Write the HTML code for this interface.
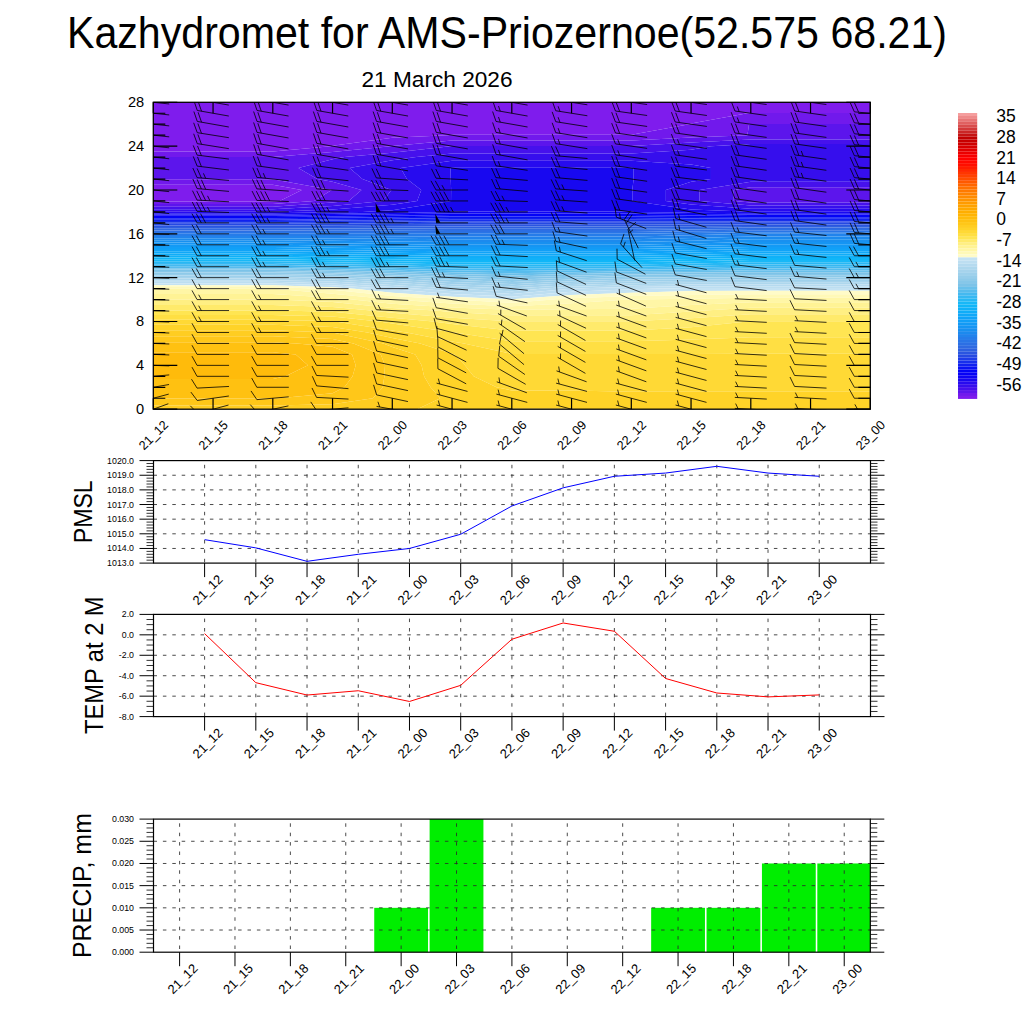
<!DOCTYPE html>
<html><head><meta charset="utf-8"><style>html,body{margin:0;padding:0;background:#fff;width:1024px;height:1024px;overflow:hidden}</style></head>
<body>
<svg width="1024" height="1024" viewBox="0 0 1024 1024" style="position:absolute;left:0;top:0">
<rect width="1024" height="1024" fill="#fff"/>
<g font-family='"Liberation Sans", sans-serif' fill="#000">
<text x="67" y="48" font-size="44" text-anchor="start" textLength="880" lengthAdjust="spacingAndGlyphs">Kazhydromet for AMS-Priozernoe(52.575 68.21)</text>
<text x="361.5" y="86.9" font-size="22.5" text-anchor="start" textLength="151" lengthAdjust="spacingAndGlyphs">21 March 2026</text>
</g>
<defs><clipPath id="pc"><rect x="153.3" y="102.3" width="717" height="306.9"/></clipPath></defs>
<g clip-path="url(#pc)">
<path d="M213.05 201.46L272.8 201.46L279.69 200.95L301.78 189.99L272.8 184.67L213.05 184.67L153.3 184.67L153.3 189.99L153.3 200.95L153.3 201.46ZM213.05 151.46L272.8 151.46L330.76 146.14L332.55 145.67L392.3 137.86L447.12 135.18L452.05 134.85L511.8 134.85L571.55 134.85L631.3 134.85L689.26 124.22L691.05 123.6L747.42 113.26L750.8 112.93L810.55 112.93L870.3 112.93L870.3 102.3L810.55 102.3L750.8 102.3L691.05 102.3L631.3 102.3L571.55 102.3L511.8 102.3L452.05 102.3L392.3 102.3L332.55 102.3L272.8 102.3L213.05 102.3L153.3 102.3L153.3 113.26L153.3 124.22L153.3 135.18L153.3 146.14L153.3 151.46Z" fill="#7f1ced" fill-rule="evenodd"/>
<path d="M213.05 204.06L272.8 204.06L314.17 200.95L331.65 189.99L272.8 179.19L213.05 179.19L153.3 179.19L153.3 184.67L213.05 184.67L272.8 184.67L301.78 189.99L279.69 200.95L272.8 201.46L213.05 201.46L153.3 201.46L153.3 204.06ZM213.05 156.94L272.8 156.94L332.55 152.04L390.51 146.14L392.3 145.9L452.05 140.5L511.8 140.5L571.55 140.5L631.3 140.5L691.05 137.62L747.42 135.18L749.01 124.22L750.8 123.89L810.55 123.89L870.3 123.89L870.3 113.26L870.3 112.93L810.55 112.93L750.8 112.93L747.42 113.26L691.05 123.6L689.26 124.22L631.3 134.85L571.55 134.85L511.8 134.85L452.05 134.85L447.12 135.18L392.3 137.86L332.55 145.67L330.76 146.14L272.8 151.46L213.05 151.46L153.3 151.46L153.3 156.94Z" fill="#7119ec" fill-rule="evenodd"/>
<path d="M213.05 206.65L272.8 206.65L332.55 202.58L348.64 200.95L361.53 189.99L332.55 181.83L317.27 179.03L298.41 168.06L332.55 159.3L344.5 157.1L392.3 152.64L450.26 146.14L452.05 145.98L511.8 145.98L571.55 145.98L631.3 145.98L691.05 142.49L750.8 139.49L810.55 139.49L870.3 139.49L870.3 135.18L870.3 124.22L870.3 123.89L810.55 123.89L750.8 123.89L749.01 124.22L747.42 135.18L691.05 137.62L631.3 140.5L571.55 140.5L511.8 140.5L452.05 140.5L392.3 145.9L390.51 146.14L332.55 152.04L272.8 156.94L213.05 156.94L153.3 156.94L153.3 157.1L153.3 168.06L153.3 179.03L153.3 179.19L213.05 179.19L272.8 179.19L331.65 189.99L314.17 200.95L272.8 204.06L213.05 204.06L153.3 204.06L153.3 206.65ZM750.8 202.5L810.55 202.5L870.3 202.5L870.3 200.95L870.3 189.99L870.3 187.25L810.55 187.25L750.8 187.25L733.73 189.99L733.73 200.95Z" fill="#5c15ec" fill-rule="evenodd"/>
<path d="M213.05 209.24L272.8 209.24L332.55 206.08L383.11 200.95L391.4 189.99L362.43 179.03L349.62 168.06L392.3 160.24L416.2 157.1L452.05 153.38L511.8 153.38L571.55 153.38L631.3 153.38L691.05 149.8L710.97 146.14L750.8 143.92L810.55 143.92L870.3 143.92L870.3 139.49L810.55 139.49L750.8 139.49L691.05 142.49L631.3 145.98L571.55 145.98L511.8 145.98L452.05 145.98L450.26 146.14L392.3 152.64L344.5 157.1L332.55 159.3L298.41 168.06L317.27 179.03L332.55 181.83L361.53 189.99L348.64 200.95L332.55 202.58L272.8 206.65L213.05 206.65L153.3 206.65L153.3 209.24ZM750.8 205.6L810.55 205.6L870.3 205.6L870.3 202.5L810.55 202.5L750.8 202.5L733.73 200.95L733.73 189.99L750.8 187.25L810.55 187.25L870.3 187.25L870.3 181.77L810.55 181.77L750.8 181.77L699.59 189.99L699.59 200.95Z" fill="#4611ec" fill-rule="evenodd"/>
<path d="M213.05 211.83L272.8 211.83L332.55 209.58L392.3 204.84L417.15 200.95L421.28 189.99L406.91 179.03L400.62 168.06L452.05 160.69L511.8 160.69L571.55 160.69L631.3 160.69L691.05 164.41L710.97 168.06L710.97 179.03L691.05 181.77L665.87 189.99L665.87 200.95L691.05 204.6L750.8 208.71L810.55 208.71L870.3 208.71L870.3 205.6L810.55 205.6L750.8 205.6L699.59 200.95L699.59 189.99L750.8 181.77L810.55 181.77L870.3 181.77L870.3 179.03L870.3 168.06L870.3 157.1L870.3 146.14L870.3 143.92L810.55 143.92L750.8 143.92L710.97 146.14L691.05 149.8L631.3 153.38L571.55 153.38L511.8 153.38L452.05 153.38L416.2 157.1L392.3 160.24L349.62 168.06L362.43 179.03L391.4 189.99L383.11 200.95L332.55 206.08L272.8 209.24L213.05 209.24L153.3 209.24L153.3 211.83Z" fill="#360eed" fill-rule="evenodd"/>
<path d="M213.05 213.16L272.8 213.16L332.55 212.36L362.43 211.91L392.3 210.14L451.03 200.95L451.15 189.99L450.74 179.03L450.55 168.06L452.05 167.85L511.8 167.85L571.55 167.85L631.3 167.85L633.6 168.06L633.6 179.03L632.31 189.99L632.31 200.95L691.05 209.47L750.8 211.81L810.55 211.81L870.3 211.81L870.3 208.71L810.55 208.71L750.8 208.71L691.05 204.6L665.87 200.95L665.87 189.99L691.05 181.77L710.97 179.03L710.97 168.06L691.05 164.41L631.3 160.69L571.55 160.69L511.8 160.69L452.05 160.69L400.62 168.06L406.91 179.03L421.28 189.99L417.15 200.95L392.3 204.84L332.55 209.58L272.8 211.83L213.05 211.83L153.3 211.83L153.3 211.91L153.3 213.16Z" fill="#270bef" fill-rule="evenodd"/>
<path d="M213.05 214.46L272.8 214.46L332.55 213.73L392.3 212.88L449.48 211.91L452.05 211.58L511.8 211.58L571.55 211.58L631.3 211.58L634.68 211.91L691.05 212.63L750.8 213.24L810.55 213.24L870.3 213.24L870.3 211.91L870.3 211.81L810.55 211.81L750.8 211.81L691.05 209.47L632.31 200.95L632.31 189.99L633.6 179.03L633.6 168.06L631.3 167.85L571.55 167.85L511.8 167.85L452.05 167.85L450.55 168.06L450.74 179.03L451.15 189.99L451.03 200.95L392.3 210.14L362.43 211.91L332.55 212.36L272.8 213.16L213.05 213.16L153.3 213.16L153.3 214.46Z" fill="#1808f0" fill-rule="evenodd"/>
<path d="M213.05 215.75L272.8 215.75L332.55 215.1L392.3 214.34L452.05 213.43L511.8 213.43L571.55 213.43L631.3 213.43L691.05 214.09L750.8 214.61L810.55 214.61L870.3 214.61L870.3 213.24L810.55 213.24L750.8 213.24L691.05 212.63L634.68 211.91L631.3 211.58L571.55 211.58L511.8 211.58L452.05 211.58L449.48 211.91L392.3 212.88L332.55 213.73L272.8 214.46L213.05 214.46L153.3 214.46L153.3 215.75Z" fill="#0f05f3" fill-rule="evenodd"/>
<path d="M213.05 217.04L272.8 217.04L332.55 216.47L392.3 215.8L452.05 214.99L511.8 214.99L571.55 214.99L631.3 214.99L691.05 215.55L750.8 215.98L810.55 215.98L870.3 215.98L870.3 214.61L810.55 214.61L750.8 214.61L691.05 214.09L631.3 213.43L571.55 213.43L511.8 213.43L452.05 213.43L392.3 214.34L332.55 215.1L272.8 215.75L213.05 215.75L153.3 215.75L153.3 217.04Z" fill="#0602f6" fill-rule="evenodd"/>
<path d="M213.05 218.34L272.8 218.34L332.55 217.84L392.3 217.27L452.05 216.56L511.8 216.56L571.55 216.56L631.3 216.56L691.05 217L750.8 217.35L810.55 217.35L870.3 217.35L870.3 215.98L810.55 215.98L750.8 215.98L691.05 215.55L631.3 214.99L571.55 214.99L511.8 214.99L452.05 214.99L392.3 215.8L332.55 216.47L272.8 217.04L213.05 217.04L153.3 217.04L153.3 218.34Z" fill="#0204f7" fill-rule="evenodd"/>
<path d="M213.05 219.63L272.8 219.63L332.55 219.21L392.3 218.73L452.05 218.12L511.8 218.12L571.55 218.12L631.3 218.12L691.05 218.46L750.8 218.72L810.55 218.72L870.3 218.72L870.3 217.35L810.55 217.35L750.8 217.35L691.05 217L631.3 216.56L571.55 216.56L511.8 216.56L452.05 216.56L392.3 217.27L332.55 217.84L272.8 218.34L213.05 218.34L153.3 218.34L153.3 219.63Z" fill="#0912f3" fill-rule="evenodd"/>
<path d="M213.05 220.93L272.8 220.93L332.55 220.58L392.3 220.19L452.05 219.69L511.8 219.69L571.55 219.69L631.3 219.69L691.05 219.91L750.8 220.09L810.55 220.09L870.3 220.09L870.3 218.72L810.55 218.72L750.8 218.72L691.05 218.46L631.3 218.12L571.55 218.12L511.8 218.12L452.05 218.12L392.3 218.73L332.55 219.21L272.8 219.63L213.05 219.63L153.3 219.63L153.3 220.93Z" fill="#1020f0" fill-rule="evenodd"/>
<path d="M213.05 222.22L272.8 222.22L332.55 221.95L392.3 221.65L452.05 221.26L511.8 221.26L571.55 221.26L631.3 221.26L691.05 221.37L750.8 221.46L810.55 221.46L870.3 221.46L870.3 220.09L810.55 220.09L750.8 220.09L691.05 219.91L631.3 219.69L571.55 219.69L511.8 219.69L452.05 219.69L392.3 220.19L332.55 220.58L272.8 220.93L213.05 220.93L153.3 220.93L153.3 222.22Z" fill="#172fec" fill-rule="evenodd"/>
<path d="M213.05 223.71L272.8 223.71L332.55 223.44L392.3 223.16L442.94 222.87L452.05 222.82L511.8 222.82L571.55 222.82L631.3 222.82L691.05 222.82L750.8 222.83L810.55 222.83L870.3 222.83L870.3 221.46L810.55 221.46L750.8 221.46L691.05 221.37L631.3 221.26L571.55 221.26L511.8 221.26L452.05 221.26L392.3 221.65L332.55 221.95L272.8 222.22L213.05 222.22L153.3 222.22L153.3 222.87L153.3 223.71Z" fill="#1e3ce8" fill-rule="evenodd"/>
<path d="M213.05 225.39L272.8 225.39L332.55 225.16L392.3 224.93L452.05 224.64L511.8 224.64L571.55 224.64L631.3 224.64L691.05 224.51L750.8 224.39L810.55 224.39L870.3 224.39L870.3 222.87L870.3 222.83L810.55 222.83L750.8 222.83L691.05 222.82L631.3 222.82L571.55 222.82L511.8 222.82L452.05 222.82L442.94 222.87L392.3 223.16L332.55 223.44L272.8 223.71L213.05 223.71L153.3 223.71L153.3 225.39Z" fill="#2549e2" fill-rule="evenodd"/>
<path d="M213.05 227.06L272.8 227.06L332.55 226.89L392.3 226.7L452.05 226.47L511.8 226.47L571.55 226.47L631.3 226.47L691.05 226.21L750.8 225.95L810.55 225.95L870.3 225.95L870.3 224.39L810.55 224.39L750.8 224.39L691.05 224.51L631.3 224.64L571.55 224.64L511.8 224.64L452.05 224.64L392.3 224.93L332.55 225.16L272.8 225.39L213.05 225.39L153.3 225.39L153.3 227.06Z" fill="#2a55e0" fill-rule="evenodd"/>
<path d="M213.05 228.74L272.8 228.74L332.55 228.61L392.3 228.47L452.05 228.29L511.8 228.29L571.55 228.29L631.3 228.29L691.05 227.9L750.8 227.52L810.55 227.52L870.3 227.52L870.3 225.95L810.55 225.95L750.8 225.95L691.05 226.21L631.3 226.47L571.55 226.47L511.8 226.47L452.05 226.47L392.3 226.7L332.55 226.89L272.8 227.06L213.05 227.06L153.3 227.06L153.3 228.74Z" fill="#2d60e0" fill-rule="evenodd"/>
<path d="M213.05 230.42L272.8 230.42L332.55 230.33L392.3 230.24L452.05 230.12L511.8 230.12L571.55 230.12L631.3 230.12L691.05 229.59L750.8 229.08L810.55 229.08L870.3 229.08L870.3 227.52L810.55 227.52L750.8 227.52L691.05 227.9L631.3 228.29L571.55 228.29L511.8 228.29L452.05 228.29L392.3 228.47L332.55 228.61L272.8 228.74L213.05 228.74L153.3 228.74L153.3 230.42Z" fill="#2f69e1" fill-rule="evenodd"/>
<path d="M213.05 232.1L272.8 232.1L332.55 232.05L392.3 232.01L452.05 231.95L511.8 231.95L571.55 231.95L631.3 231.95L691.05 231.29L750.8 230.65L810.55 230.65L870.3 230.65L870.3 229.08L810.55 229.08L750.8 229.08L691.05 229.59L631.3 230.12L571.55 230.12L511.8 230.12L452.05 230.12L392.3 230.24L332.55 230.33L272.8 230.42L213.05 230.42L153.3 230.42L153.3 232.1Z" fill="#2c6fe4" fill-rule="evenodd"/>
<path d="M213.05 233.78L272.8 233.78L332.55 233.78L392.3 233.78L452.05 233.77L511.8 233.77L571.55 233.77L631.3 233.77L691.05 232.98L750.8 232.22L810.55 232.22L870.3 232.22L870.3 230.65L810.55 230.65L750.8 230.65L691.05 231.29L631.3 231.95L571.55 231.95L511.8 231.95L452.05 231.95L392.3 232.01L332.55 232.05L272.8 232.1L213.05 232.1L153.3 232.1L153.3 233.78Z" fill="#2975e7" fill-rule="evenodd"/>
<path d="M213.05 235.95L272.8 235.95L332.55 236.12L392.3 236.3L452.05 236.49L511.8 236.49L571.55 236.49L631.3 236.49L691.05 235.2L747.42 233.83L750.8 233.78L810.55 233.78L870.3 233.78L870.3 232.22L810.55 232.22L750.8 232.22L691.05 232.98L631.3 233.77L571.55 233.77L511.8 233.77L452.05 233.77L392.3 233.78L332.55 233.78L272.8 233.78L213.05 233.78L153.3 233.78L153.3 233.83L153.3 235.95Z" fill="#267ce9" fill-rule="evenodd"/>
<path d="M213.05 238.15L272.8 238.15L332.55 238.49L392.3 238.85L452.05 239.23L511.8 239.23L571.55 239.23L631.3 239.23L691.05 237.94L750.8 236.49L810.55 236.49L870.3 236.49L870.3 233.83L870.3 233.78L810.55 233.78L750.8 233.78L747.42 233.83L691.05 235.2L631.3 236.49L571.55 236.49L511.8 236.49L452.05 236.49L392.3 236.3L332.55 236.12L272.8 235.95L213.05 235.95L153.3 235.95L153.3 238.15Z" fill="#2183ec" fill-rule="evenodd"/>
<path d="M213.05 240.34L272.8 240.34L332.55 240.85L392.3 241.39L452.05 241.97L511.8 241.97L571.55 241.97L631.3 241.97L691.05 240.68L750.8 239.23L810.55 239.23L870.3 239.23L870.3 236.49L810.55 236.49L750.8 236.49L691.05 237.94L631.3 239.23L571.55 239.23L511.8 239.23L452.05 239.23L392.3 238.85L332.55 238.49L272.8 238.15L213.05 238.15L153.3 238.15L153.3 240.34Z" fill="#1c8aee" fill-rule="evenodd"/>
<path d="M213.05 242.53L272.8 242.53L332.55 243.21L392.3 243.94L452.05 244.71L511.8 244.71L571.55 244.71L631.3 244.71L691.05 243.42L750.8 241.97L810.55 241.97L870.3 241.97L870.3 239.23L810.55 239.23L750.8 239.23L691.05 240.68L631.3 241.97L571.55 241.97L511.8 241.97L452.05 241.97L392.3 241.39L332.55 240.85L272.8 240.34L213.05 240.34L153.3 240.34L153.3 242.53Z" fill="#1890f0" fill-rule="evenodd"/>
<path d="M332.55 245.52L392.3 246.25L452.05 246.92L511.8 246.92L571.55 246.92L631.3 246.92L691.05 245.89L747.42 244.79L750.8 244.71L810.55 244.71L870.3 244.71L870.3 241.97L810.55 241.97L750.8 241.97L691.05 243.42L631.3 244.71L571.55 244.71L511.8 244.71L452.05 244.71L392.3 243.94L332.55 243.21L272.8 242.53L213.05 242.53L153.3 242.53L153.3 244.72L213.05 244.72L272.8 244.72L277.73 244.79Z" fill="#1595f3" fill-rule="evenodd"/>
<path d="M213.05 246.92L272.8 246.92L332.55 247.71L392.3 248.44L452.05 249.11L511.8 249.11L571.55 249.11L631.3 249.11L691.05 248.08L750.8 246.92L810.55 246.92L870.3 246.92L870.3 244.79L870.3 244.71L810.55 244.71L750.8 244.71L747.42 244.79L691.05 245.89L631.3 246.92L571.55 246.92L511.8 246.92L452.05 246.92L392.3 246.25L332.55 245.52L277.73 244.79L272.8 244.72L213.05 244.72L153.3 244.72L153.3 244.79L153.3 246.92Z" fill="#139af5" fill-rule="evenodd"/>
<path d="M213.05 249.11L272.8 249.11L332.55 249.9L392.3 250.63L452.05 251.3L511.8 251.3L571.55 251.3L631.3 251.3L691.05 250.27L750.8 249.11L810.55 249.11L870.3 249.11L870.3 246.92L810.55 246.92L750.8 246.92L691.05 248.08L631.3 249.11L571.55 249.11L511.8 249.11L452.05 249.11L392.3 248.44L332.55 247.71L272.8 246.92L213.05 246.92L153.3 246.92L153.3 249.11Z" fill="#119ff7" fill-rule="evenodd"/>
<path d="M213.05 251.3L272.8 251.3L332.55 252.1L392.3 252.83L452.05 253.49L511.8 253.49L571.55 253.49L631.3 253.49L691.05 252.46L750.8 251.3L810.55 251.3L870.3 251.3L870.3 249.11L810.55 249.11L750.8 249.11L691.05 250.27L631.3 251.3L571.55 251.3L511.8 251.3L452.05 251.3L392.3 250.63L332.55 249.9L272.8 249.11L213.05 249.11L153.3 249.11L153.3 251.3Z" fill="#10a3f8" fill-rule="evenodd"/>
<path d="M213.05 253.49L272.8 253.49L332.55 254.29L392.3 255.02L452.05 255.68L511.8 255.68L571.55 255.68L631.3 255.68L691.05 254.65L750.8 253.49L810.55 253.49L870.3 253.49L870.3 251.3L810.55 251.3L750.8 251.3L691.05 252.46L631.3 253.49L571.55 253.49L511.8 253.49L452.05 253.49L392.3 252.83L332.55 252.1L272.8 251.3L213.05 251.3L153.3 251.3L153.3 253.49Z" fill="#10a8f8" fill-rule="evenodd"/>
<path d="M332.55 256.39L392.3 257.12L452.05 257.88L511.8 257.88L571.55 257.88L631.3 257.88L691.05 256.85L747.42 255.75L750.8 255.68L810.55 255.68L870.3 255.68L870.3 253.49L810.55 253.49L750.8 253.49L691.05 254.65L631.3 255.68L571.55 255.68L511.8 255.68L452.05 255.68L392.3 255.02L332.55 254.29L272.8 253.49L213.05 253.49L153.3 253.49L153.3 255.68L213.05 255.68L272.8 255.68L277.73 255.75Z" fill="#10adf8" fill-rule="evenodd"/>
<path d="M213.05 257.52L272.8 257.52L332.55 258.33L392.3 259.18L452.05 260.07L511.8 260.07L571.55 260.07L631.3 260.07L691.05 259.04L750.8 257.88L810.55 257.88L870.3 257.88L870.3 255.75L870.3 255.68L810.55 255.68L750.8 255.68L747.42 255.75L691.05 256.85L631.3 257.88L571.55 257.88L511.8 257.88L452.05 257.88L392.3 257.12L332.55 256.39L277.73 255.75L272.8 255.68L213.05 255.68L153.3 255.68L153.3 255.75L153.3 257.52Z" fill="#10b1f8" fill-rule="evenodd"/>
<path d="M213.05 259.35L272.8 259.35L332.55 260.26L392.3 261.23L452.05 262.26L511.8 262.26L571.55 262.26L631.3 262.26L691.05 261.23L750.8 260.07L810.55 260.07L870.3 260.07L870.3 257.88L810.55 257.88L750.8 257.88L691.05 259.04L631.3 260.07L571.55 260.07L511.8 260.07L452.05 260.07L392.3 259.18L332.55 258.33L272.8 257.52L213.05 257.52L153.3 257.52L153.3 259.35Z" fill="#10b6f8" fill-rule="evenodd"/>
<path d="M213.05 261.18L272.8 261.18L332.55 262.2L392.3 263.29L452.05 264.45L511.8 264.45L571.55 264.45L631.3 264.45L691.05 263.42L750.8 262.26L810.55 262.26L870.3 262.26L870.3 260.07L810.55 260.07L750.8 260.07L691.05 261.23L631.3 262.26L571.55 262.26L511.8 262.26L452.05 262.26L392.3 261.23L332.55 260.26L272.8 259.35L213.05 259.35L153.3 259.35L153.3 261.18Z" fill="#18b8f7" fill-rule="evenodd"/>
<path d="M213.05 263L272.8 263L332.55 264.13L392.3 265.34L452.05 266.64L511.8 266.64L571.55 266.64L631.3 266.64L691.05 265.61L750.8 264.45L810.55 264.45L870.3 264.45L870.3 262.26L810.55 262.26L750.8 262.26L691.05 263.42L631.3 264.45L571.55 264.45L511.8 264.45L452.05 264.45L392.3 263.29L332.55 262.2L272.8 261.18L213.05 261.18L153.3 261.18L153.3 263Z" fill="#27b8f4" fill-rule="evenodd"/>
<path d="M392.3 267.25L452.05 268.48L511.8 268.84L571.55 268.48L631.3 268.23L691.05 267.55L747.42 266.71L750.8 266.64L810.55 266.64L870.3 266.64L870.3 264.45L810.55 264.45L750.8 264.45L691.05 265.61L631.3 266.64L571.55 266.64L511.8 266.64L452.05 266.64L392.3 265.34L332.55 264.13L272.8 263L213.05 263L153.3 263L153.3 264.83L213.05 264.83L272.8 264.83L332.55 266.07L362.42 266.71Z" fill="#35b8f2" fill-rule="evenodd"/>
<path d="M332.55 267.66L392.3 268.85L452.05 270.31L511.8 271.03L571.55 270.31L631.3 269.8L691.05 269.23L750.8 268.48L810.55 268.48L870.3 268.48L870.3 266.71L870.3 266.64L810.55 266.64L750.8 266.64L747.42 266.71L691.05 267.55L631.3 268.23L571.55 268.48L511.8 268.84L452.05 268.48L392.3 267.25L362.42 266.71L332.55 266.07L272.8 264.83L213.05 264.83L153.3 264.83L153.3 266.66L213.05 266.66L272.8 266.66L275.37 266.71Z" fill="#44b9f0" fill-rule="evenodd"/>
<path d="M213.05 268.13L272.8 268.13L332.55 269.08L392.3 270.45L452.05 272.14L511.8 273.22L571.55 272.14L631.3 271.36L691.05 270.91L750.8 270.31L810.55 270.31L870.3 270.31L870.3 268.48L810.55 268.48L750.8 268.48L691.05 269.23L631.3 269.8L571.55 270.31L511.8 271.03L452.05 270.31L392.3 268.85L332.55 267.66L275.37 266.71L272.8 266.66L213.05 266.66L153.3 266.66L153.3 266.71L153.3 268.13Z" fill="#57bced" fill-rule="evenodd"/>
<path d="M213.05 269.6L272.8 269.6L332.55 270.51L392.3 272.06L452.05 273.96L511.8 275.41L571.55 273.96L631.3 272.93L691.05 272.59L750.8 272.14L810.55 272.14L870.3 272.14L870.3 270.31L810.55 270.31L750.8 270.31L691.05 270.91L631.3 271.36L571.55 272.14L511.8 273.22L452.05 272.14L392.3 270.45L332.55 269.08L272.8 268.13L213.05 268.13L153.3 268.13L153.3 269.6Z" fill="#69c0eb" fill-rule="evenodd"/>
<path d="M213.05 271.07L272.8 271.07L332.55 271.93L392.3 273.66L452.05 275.79L511.8 277.61L571.55 275.79L631.3 274.49L691.05 274.26L750.8 273.96L810.55 273.96L870.3 273.96L870.3 272.14L810.55 272.14L750.8 272.14L691.05 272.59L631.3 272.93L571.55 273.96L511.8 275.41L452.05 273.96L392.3 272.06L332.55 270.51L272.8 269.6L213.05 269.6L153.3 269.6L153.3 271.07Z" fill="#7cc3e8" fill-rule="evenodd"/>
<path d="M511.8 279.8L569.76 277.67L571.55 277.62L631.3 276.06L691.05 275.94L750.8 275.79L810.55 275.79L870.3 275.79L870.3 273.96L810.55 273.96L750.8 273.96L691.05 274.26L631.3 274.49L571.55 275.79L511.8 277.61L452.05 275.79L392.3 273.66L332.55 271.93L272.8 271.07L213.05 271.07L153.3 271.07L153.3 272.54L213.05 272.54L272.8 272.54L332.55 273.36L392.3 275.27L452.05 277.62L453.84 277.67Z" fill="#86c7e9" fill-rule="evenodd"/>
<path d="M452.05 279.8L511.8 281.99L571.55 279.44L629.51 277.67L631.3 277.62L691.05 277.62L750.8 277.62L810.55 277.62L870.3 277.62L870.3 275.79L810.55 275.79L750.8 275.79L691.05 275.94L631.3 276.06L571.55 277.62L569.76 277.67L511.8 279.8L453.84 277.67L452.05 277.62L392.3 275.27L332.55 273.36L272.8 272.54L213.05 272.54L153.3 272.54L153.3 274L213.05 274L272.8 274L332.55 274.78L392.3 276.87L412.62 277.67Z" fill="#8ecae9" fill-rule="evenodd"/>
<path d="M392.3 278.71L452.05 281.99L511.8 284.18L571.55 281.27L631.3 279.51L691.05 279.34L750.8 279.34L810.55 279.34L870.3 279.34L870.3 277.67L870.3 277.62L810.55 277.62L750.8 277.62L691.05 277.62L631.3 277.62L629.51 277.67L571.55 279.44L511.8 281.99L452.05 279.8L412.62 277.67L392.3 276.87L332.55 274.78L272.8 274L213.05 274L153.3 274L153.3 275.47L213.05 275.47L272.8 275.47L332.55 276.2L372.77 277.67Z" fill="#96cdea" fill-rule="evenodd"/>
<path d="M392.3 280.77L452.05 284.18L511.8 286.37L571.55 283.1L631.3 281.41L691.05 281.06L750.8 281.06L810.55 281.06L870.3 281.06L870.3 279.34L810.55 279.34L750.8 279.34L691.05 279.34L631.3 279.51L571.55 281.27L511.8 284.18L452.05 281.99L392.3 278.71L372.77 277.67L332.55 276.2L272.8 275.47L213.05 275.47L153.3 275.47L153.3 276.94L213.05 276.94L272.8 276.94L332.55 277.63L333.72 277.67Z" fill="#9ed0eb" fill-rule="evenodd"/>
<path d="M213.05 278.51L272.8 278.51L332.55 279.55L392.3 282.84L452.05 286.37L511.8 288.57L571.55 284.92L631.3 283.31L691.05 282.78L750.8 282.78L810.55 282.78L870.3 282.78L870.3 281.06L810.55 281.06L750.8 281.06L691.05 281.06L631.3 281.41L571.55 283.1L511.8 286.37L452.05 284.18L392.3 280.77L333.72 277.67L332.55 277.63L272.8 276.94L213.05 276.94L153.3 276.94L153.3 277.67L153.3 278.51Z" fill="#a6d3ec" fill-rule="evenodd"/>
<path d="M511.8 291.24L540.78 288.63L571.55 286.75L631.3 285.21L691.05 284.5L750.8 284.5L810.55 284.5L870.3 284.5L870.3 282.78L810.55 282.78L750.8 282.78L691.05 282.78L631.3 283.31L571.55 284.92L511.8 288.57L452.05 286.37L392.3 282.84L332.55 279.55L272.8 278.51L213.05 278.51L153.3 278.51L153.3 280.19L213.05 280.19L272.8 280.19L332.55 281.48L392.3 284.91L452.05 288.57L453.84 288.63Z" fill="#add7ed" fill-rule="evenodd"/>
<path d="M452.05 291.29L511.8 293.94L570.65 288.63L571.55 288.58L631.3 287.11L691.05 286.22L750.8 286.22L810.55 286.22L870.3 286.22L870.3 284.5L810.55 284.5L750.8 284.5L691.05 284.5L631.3 285.21L571.55 286.75L540.78 288.63L511.8 291.24L453.84 288.63L452.05 288.57L392.3 284.91L332.55 281.48L272.8 280.19L213.05 280.19L153.3 280.19L153.3 281.87L213.05 281.87L272.8 281.87L332.55 283.41L392.3 286.98L419.31 288.63Z" fill="#b5daef" fill-rule="evenodd"/>
<path d="M392.3 289.31L452.05 294.03L511.8 296.63L571.55 291.79L631.3 289.31L651.22 288.63L691.05 287.94L750.8 287.94L810.55 287.94L870.3 287.94L870.3 286.22L810.55 286.22L750.8 286.22L691.05 286.22L631.3 287.11L571.55 288.58L570.65 288.63L511.8 293.94L452.05 291.29L419.31 288.63L392.3 286.98L332.55 283.41L272.8 281.87L213.05 281.87L153.3 281.87L153.3 283.55L213.05 283.55L272.8 283.55L332.55 285.35L386.01 288.63Z" fill="#bddef1" fill-rule="evenodd"/>
<path d="M392.3 292.7L452.05 296.77L511.8 299.32L571.55 295.04L631.3 292.7L691.05 290.98L750.8 290.75L810.55 290.75L870.3 290.75L870.3 288.63L870.3 287.94L810.55 287.94L750.8 287.94L691.05 287.94L651.22 288.63L631.3 289.31L571.55 291.79L511.8 296.63L452.05 294.03L392.3 289.31L386.01 288.63L332.55 285.35L272.8 283.55L213.05 283.55L153.3 283.55L153.3 285.22L213.05 285.22L272.8 285.22L332.55 287.28L354.56 288.63Z" fill="#c4e2f3" fill-rule="evenodd"/>
<path d="M511.8 302.77L553.17 299.59L571.55 298.29L631.3 296.1L691.05 294.9L750.8 294.29L810.55 294.29L870.3 294.29L870.3 290.75L810.55 290.75L750.8 290.75L691.05 290.98L631.3 292.7L571.55 295.04L511.8 299.32L452.05 296.77L392.3 292.7L354.56 288.63L332.55 287.28L272.8 285.22L213.05 285.22L153.3 285.22L153.3 286.9L213.05 286.9L272.8 286.9L319.07 288.63L332.55 289.81L392.3 296.1L452.05 299.51L453.98 299.59Z" fill="#fffbc8" fill-rule="evenodd"/>
<path d="M452.05 303.49L511.8 306.31L571.55 303.25L628.45 299.59L631.3 299.49L691.05 298.81L750.8 297.83L810.55 297.83L870.3 297.83L870.3 294.29L810.55 294.29L750.8 294.29L691.05 294.9L631.3 296.1L571.55 298.29L553.17 299.59L511.8 302.78L453.98 299.59L452.05 299.51L392.3 296.1L332.55 289.81L319.07 288.63L272.8 286.9L213.05 286.9L153.3 286.9L153.3 288.58L213.05 288.58L272.8 288.58L274.15 288.63L332.55 293.72L392.3 299.49L394.09 299.59Z" fill="#fff9b7" fill-rule="evenodd"/>
<path d="M392.3 303.73L452.05 307.5L511.8 309.85L571.55 309.34L631.3 308.68L691.05 304.91L750.8 302.33L810.55 302.33L870.3 302.33L870.3 299.59L870.3 297.83L810.55 297.82L750.8 297.82L691.05 298.81L631.3 299.49L628.45 299.59L571.55 303.25L511.8 306.31L452.05 303.49L394.09 299.59L392.3 299.49L332.55 293.72L274.15 288.63L272.8 288.58L213.05 288.58L153.3 288.58L153.3 288.63L153.3 293.95L213.05 293.95L272.8 293.95L332.55 297.64L352.87 299.59Z" fill="#fff6a6" fill-rule="evenodd"/>
<path d="M452.05 311.92L511.8 315.35L571.55 315.35L631.3 315.35L691.05 311.55L704.84 310.55L750.8 307.81L810.55 307.81L870.3 307.81L870.3 302.33L810.55 302.33L750.8 302.33L691.05 304.91L631.3 308.68L571.55 309.34L511.8 309.85L452.05 307.5L392.3 303.73L352.87 299.59L332.55 297.64L272.8 293.95L213.05 293.95L153.3 293.95L153.3 299.43L213.05 299.43L272.8 299.43L276.18 299.59L332.55 302.06L392.3 307.99L434.98 310.55Z" fill="#fff395" fill-rule="evenodd"/>
<path d="M392.3 312.64L452.05 317.63L511.8 321.33L571.55 321.33L631.3 321.33L691.05 318.19L750.8 314.14L810.55 314.14L870.3 314.14L870.3 310.55L870.3 307.81L810.55 307.81L750.8 307.81L704.84 310.55L691.05 311.55L631.3 315.35L571.55 315.35L511.8 315.35L452.05 311.92L434.98 310.55L392.3 307.99L332.55 302.06L276.18 299.59L272.8 299.43L213.05 299.43L153.3 299.43L153.3 299.59L153.3 304.91L213.05 304.91L272.8 304.91L332.55 307L370.96 310.55Z" fill="#ffef83" fill-rule="evenodd"/>
<path d="M452.05 324.09L511.8 330.6L571.55 330.6L631.3 330.6L691.05 327.28L747.42 321.51L750.8 321.3L810.55 321.3L870.3 321.3L870.3 314.14L810.55 314.14L750.8 314.14L691.05 318.19L631.3 321.33L571.55 321.33L511.8 321.33L452.05 317.63L392.3 312.64L370.96 310.55L332.55 307L272.8 304.91L213.05 304.91L153.3 304.91L153.3 310.39L213.05 310.39L272.8 310.39L278.58 310.55L332.55 311.87L392.3 317.86L433.3 321.51Z" fill="#ffea6b" fill-rule="evenodd"/>
<path d="M511.8 341.24L571.55 341.24L631.3 341.24L691.05 339.57L750.8 337.17L810.55 337.17L870.3 337.17L870.3 332.48L870.3 321.51L870.3 321.3L810.55 321.3L750.8 321.3L747.42 321.51L691.05 327.28L631.3 330.6L571.55 330.6L511.8 330.6L452.05 324.09L433.3 321.51L392.3 317.86L332.55 311.87L278.58 310.55L272.8 310.39L213.05 310.39L153.3 310.39L153.3 310.55L153.3 315.04L213.05 315.04L272.8 315.04L332.55 316.55L379.12 321.51L392.3 323.57L452.05 332.15L454.9 332.48Z" fill="#ffe552" fill-rule="evenodd"/>
<path d="M511.8 354L571.55 354L631.3 354L691.05 353.95L750.8 353.87L810.55 353.87L870.3 353.87L870.3 343.44L870.3 337.17L810.55 337.17L750.8 337.17L691.05 339.57L631.3 341.24L571.55 341.24L511.8 341.24L454.9 332.47L452.05 332.15L392.3 323.57L379.12 321.51L332.55 316.55L272.8 315.04L213.05 315.04L153.3 315.04L153.3 319.66L213.05 319.66L272.8 319.66L332.55 321.23L335.19 321.51L392.3 330.42L406.53 332.48L452.05 341.55L464 343.44Z" fill="#ffdf43" fill-rule="evenodd"/>
<path d="M511.8 390.41L571.55 390.41L631.3 391.66L691.05 391.66L750.8 391.66L810.55 391.66L870.3 391.66L870.3 387.28L870.3 376.32L870.3 365.36L870.3 354.4L870.3 353.87L810.55 353.87L750.8 353.87L691.05 353.95L631.3 354L571.55 354L511.8 354L464 343.44L452.05 341.55L406.53 332.48L392.3 330.42L335.19 321.51L332.55 321.23L272.8 319.66L213.05 319.66L153.3 319.66L153.3 321.51L153.3 324.8L213.05 324.8L272.8 324.8L332.55 326.88L367.4 332.48L392.3 337.96L420.18 343.44L452.05 353.87L454.42 354.4L464.94 365.36L473.66 376.32L496.48 387.28Z" fill="#ffd935" fill-rule="evenodd"/>
<path d="M452.05 409.2L501.26 409.2L511.8 408.58L571.55 408.58L576.98 409.2L631.3 409.2L691.05 409.2L750.8 409.2L810.55 409.2L870.3 409.2L870.3 398.24L870.3 391.66L810.55 391.66L750.8 391.66L691.05 391.66L631.3 391.66L571.55 390.41L511.8 390.41L496.48 387.28L473.66 376.32L464.94 365.36L454.42 354.4L452.05 353.87L420.18 343.44L392.3 337.96L367.4 332.48L332.55 326.88L272.8 324.8L213.05 324.8L153.3 324.8L153.3 330.28L213.05 330.28L272.8 330.28L329.7 332.48L332.55 332.6L383.34 343.44L392.3 347.09L415.28 354.4L421.59 365.36L424.08 376.32L430.6 387.28L440.25 398.24L417.2 409.2Z" fill="#ffd328" fill-rule="evenodd"/>
<path d="M213.05 409.2L272.8 409.2L332.55 409.2L392.3 409.2L417.2 409.2L440.25 398.24L430.6 387.28L424.08 376.32L421.59 365.36L415.28 354.4L392.3 347.09L383.34 343.44L332.55 332.6L329.7 332.48L272.8 330.28L213.05 330.28L153.3 330.28L153.3 332.48L153.3 336.13L213.05 336.13L272.8 336.13L332.55 338.97L353.46 343.44L380.81 354.4L384.98 365.36L384.35 376.32L382.72 387.28L372.94 398.24L332.55 404.35L272.8 405.62L213.05 405.62L153.3 405.62L153.3 409.2ZM511.8 409.2L571.55 409.2L576.98 409.2L571.55 408.58L511.8 408.58L501.26 409.2Z" fill="#ffcd21" fill-rule="evenodd"/>
<path d="M213.05 405.62L272.8 405.62L332.55 404.35L372.94 398.24L382.72 387.28L384.35 376.32L384.98 365.36L380.81 354.4L353.46 343.44L332.55 338.97L272.8 336.13L213.05 336.13L153.3 336.13L153.3 342.22L213.05 342.22L272.8 342.22L296.7 343.44L332.55 346.79L352.08 354.4L355.69 365.36L352.57 376.32L344.42 387.28L332.55 393.14L278.78 398.24L272.8 398.45L213.05 398.45L153.3 398.45L153.3 405.62Z" fill="#ffc719" fill-rule="evenodd"/>
<path d="M213.05 398.45L272.8 398.45L278.77 398.24L332.55 393.14L344.42 387.28L352.57 376.32L355.69 365.36L352.08 354.4L332.55 346.79L296.7 343.44L272.8 342.22L213.05 342.22L153.3 342.22L153.3 343.44L153.3 352.2L213.05 352.2L272.8 352.2L295.78 354.4L307.95 365.36L285.51 376.32L272.8 379.06L213.05 379.06L153.3 379.06L153.3 387.28L153.3 398.24L153.3 398.45Z" fill="#ffc111" fill-rule="evenodd"/>
<path d="M213.05 379.06L272.8 379.06L285.51 376.32L307.95 365.36L295.78 354.4L272.8 352.2L213.05 352.2L153.3 352.2L153.3 354.4L153.3 365.36L153.3 376.32L153.3 379.06Z" fill="#ffbb0b" fill-rule="evenodd"/>
<path d="M138.26 414.67L168.34 403.73M138.26 414.67L130.34 407.78M137.85 402.38L168.75 394.1M137.85 402.38L130.55 394.83M137.54 390.06L169.06 384.5M137.54 390.06L130.94 381.9M137.36 377.71L169.24 374.92M137.36 377.71L131.49 369.01M137.31 364.8L169.29 365.92M137.31 364.8L132.54 355.44M137.31 353.84L169.29 354.95M137.31 353.84L132.54 344.48M137.31 342.88L169.29 343.99M137.31 342.88L132.54 333.52M137.31 331.92L169.29 333.03M137.31 331.92L132.54 322.56M137.31 320.96L169.29 322.07M137.31 320.96L132.54 311.6M137.31 310L169.29 311.11M137.31 310L132.54 300.64M137.31 299.03L169.29 300.15M137.31 299.03L132.54 289.68M137.31 288.07L169.29 289.19M137.31 288.07L132.54 278.72M137.31 277.11L169.29 278.23M137.31 277.11L132.54 267.76M137.31 266.15L169.29 267.27M137.31 266.15L132.54 256.8M137.31 255.19L169.29 256.31M137.31 255.19L132.54 245.84M137.31 244.23L169.29 245.35M137.31 244.23L132.54 234.88M137.31 233.27L169.29 234.39M137.31 233.27L132.54 223.91M137.39 221.2L169.21 224.54M137.39 221.2L133.28 211.53M141.66 221.64L137.56 211.98M137.39 210.23L169.21 213.58M137.39 210.23L133.28 200.57M141.66 210.68L137.56 201.02M137.39 199.27L169.21 202.62M137.39 199.27L133.28 189.61M141.66 199.72L137.56 190.06M137.39 188.31L169.21 191.66M137.39 188.31L133.28 178.65M141.66 188.76L137.56 179.1M137.39 177.35L169.21 180.7M137.39 177.35L133.28 167.69M141.66 177.8L137.56 168.14M137.39 166.39L169.21 169.74M137.39 166.39L133.28 156.73M141.66 166.84L137.56 157.18M137.39 155.43L169.21 158.78M137.39 155.43L133.28 145.77M141.66 155.88L137.56 146.22M137.39 144.47L169.21 147.82M137.39 144.47L133.28 134.81M141.66 144.92L137.56 135.25M137.39 133.51L169.21 136.85M137.39 133.51L133.28 123.84M141.66 133.96L137.56 124.29M137.39 122.55L169.21 125.89M137.39 122.55L133.28 112.88M141.66 123L137.56 113.33M137.39 111.59L169.21 114.93M137.39 111.59L133.28 101.92M141.66 112.04L137.56 102.37M137.39 100.63L169.21 103.97M137.39 100.63L133.28 90.96M141.66 101.08L137.56 91.41M197.6 413.34L228.5 405.06M197.6 413.34L190.3 405.79M197.21 400.47L228.89 396.01M197.21 400.47L190.89 392.08M197.07 388.12L229.03 386.44M197.07 388.12L191.51 379.21M197.05 376.32L229.05 376.32M197.05 376.32L191.96 367.13M197.05 365.36L229.05 365.36M197.05 365.36L191.96 356.17M197.05 354.4L229.05 354.4M197.05 354.4L191.96 345.21M197.05 343.44L229.05 343.44M197.05 343.44L191.96 334.25M197.05 332.48L229.05 332.48M197.05 332.48L191.96 323.29M197.05 321.51L229.05 321.51M197.05 321.51L191.96 312.33M201.35 321.51L198.68 316.7M197.05 310.55L229.05 310.55M197.05 310.55L191.96 301.37M201.35 310.55L198.68 305.74M197.05 299.59L229.05 299.59M197.05 299.59L191.96 290.41M201.35 299.59L198.68 294.78M197.05 288.63L229.05 288.63M197.05 288.63L191.96 279.45M201.35 288.63L198.68 283.82M197.05 277.67L229.05 277.67M197.05 277.67L191.96 268.49M201.35 277.67L196.26 268.49M197.05 266.71L229.05 266.71M197.05 266.71L191.96 257.53M201.35 266.71L196.26 257.53M197.05 255.75L229.05 255.75M197.05 255.75L191.96 246.57M201.35 255.75L196.26 246.57M197.05 244.79L229.05 244.79M197.05 244.79L191.96 235.61M201.35 244.79L196.26 235.61M197.05 233.83L229.05 233.83M197.05 233.83L191.96 224.65M201.35 233.83L196.26 224.65M197.05 222.87L229.05 222.87M197.05 222.87L191.96 213.68M201.35 222.87L196.26 213.68M205.65 222.87L200.56 213.68M197.06 211.35L229.04 212.47M197.06 211.35L192.29 201.99M201.36 211.5L196.59 202.14M205.65 211.65L200.89 202.29M209.95 211.8L207.45 206.9M197.07 200.11L229.03 201.78M197.07 200.11L192.47 190.67M201.37 200.33L196.76 190.9M205.66 200.56L201.06 191.12M209.95 200.78L207.54 195.84M197.11 188.59L228.99 191.38M197.11 188.59L192.84 179M201.39 188.97L197.12 179.37M205.68 189.34L201.41 179.75M197.11 177.63L228.99 180.42M197.11 177.63L192.84 168.04M201.39 178.01L197.12 168.41M205.68 178.38L203.44 173.36M197.17 166.11L228.93 170.01M197.17 166.11L193.24 156.38M201.44 166.64L197.5 156.9M197.17 155.15L228.93 159.05M197.17 155.15L193.24 145.42M201.44 155.68L197.5 145.94M197.25 143.64L228.85 148.65M197.25 143.64L193.66 133.77M201.49 144.31L197.9 134.45M197.25 132.68L228.85 137.69M197.25 132.68L193.66 122.81M201.49 133.35L197.9 123.49M197.29 121.44L228.81 127M197.29 121.44L193.87 111.52M201.53 122.19L198.11 112.26M197.29 110.48L228.81 116.04M197.29 110.48L193.87 100.55M201.53 111.23L198.11 101.3M197.29 99.52L228.81 105.08M197.29 99.52L193.87 89.59M201.53 100.27L198.11 90.34M257.15 412.53L288.45 405.87M257.15 412.53L250.26 404.6M256.86 399.63L288.74 396.84M256.86 399.63L250.99 390.93M256.8 387.28L288.8 387.28M256.8 387.28L251.71 378.1M256.8 376.32L288.8 376.32M256.8 376.32L251.71 367.13M256.8 365.36L288.8 365.36M256.8 365.36L251.71 356.17M256.8 354.4L288.8 354.4M256.8 354.4L251.71 345.21M256.8 343.44L288.8 343.44M256.8 343.44L251.71 334.25M256.8 332.48L288.8 332.48M256.8 332.48L251.71 323.29M261.1 332.48L258.43 327.66M256.8 321.51L288.8 321.51M256.8 321.51L251.71 312.33M261.1 321.51L258.43 316.7M256.8 310.55L288.8 310.55M256.8 310.55L251.71 301.37M261.1 310.55L258.43 305.74M256.8 299.59L288.8 299.59M256.8 299.59L251.71 290.41M261.1 299.59L258.43 294.78M256.8 288.63L288.8 288.63M256.8 288.63L251.71 279.45M261.1 288.63L256.01 279.45M256.8 277.67L288.8 277.67M256.8 277.67L251.71 268.49M261.1 277.67L256.01 268.49M256.8 266.71L288.8 266.71M256.8 266.71L251.71 257.53M261.1 266.71L256.01 257.53M265.4 266.71L262.73 261.9M256.8 255.75L288.8 255.75M256.8 255.75L251.71 246.57M261.1 255.75L256.01 246.57M265.4 255.75L262.73 250.94M256.8 244.79L288.8 244.79M256.8 244.79L251.71 235.61M261.1 244.79L256.01 235.61M265.4 244.79L262.73 239.98M256.8 233.83L288.8 233.83M256.8 233.83L251.71 224.65M261.1 233.83L256.01 224.65M265.4 233.83L262.73 229.02M256.8 222.87L288.8 222.87M256.8 222.87L251.71 213.68M261.1 222.87L256.01 213.68M265.4 222.87L260.31 213.68M269.7 222.87L267.03 218.06M256.8 211.91L288.8 211.91M256.8 211.91L251.71 202.72M261.1 211.91L256.01 202.72M265.4 211.91L260.31 202.72M269.7 211.91L267.03 207.1M256.81 200.39L288.79 201.5M256.81 200.39L252.04 191.03M261.11 200.54L256.34 191.18M265.4 200.69L260.64 191.33M269.7 200.84L264.93 191.48M256.84 188.87L288.76 191.1M256.84 188.87L252.4 179.35M261.13 189.17L256.69 179.65M265.42 189.47L260.98 179.95M256.89 177.35L288.71 180.7M256.89 177.35L252.78 167.69M261.16 177.8L257.06 168.14M265.44 178.25L263.29 173.19M256.96 165.84L288.64 170.29M256.96 165.84L253.19 156.03M261.21 166.44L257.45 156.63M257.04 154.33L288.56 159.88M257.04 154.33L253.62 144.4M261.28 155.07L257.86 145.14M257.04 143.36L288.56 148.92M257.04 143.36L253.62 133.44M261.28 144.11L257.86 134.18M257.04 132.4L288.56 137.96M257.04 132.4L253.62 122.48M261.28 133.15L257.86 123.22M257.04 121.44L288.56 127M257.04 121.44L253.62 111.52M261.28 122.19L257.86 112.26M257.04 110.48L288.56 116.04M257.04 110.48L253.62 100.55M261.28 111.23L257.86 101.3M257.04 99.52L288.56 105.08M257.04 99.52L253.62 89.59M261.28 100.27L257.86 90.34M316.61 410.59L348.49 407.81M316.61 410.59L310.74 401.89M316.57 397.4L348.53 399.08M316.57 397.4L311.97 387.96M316.61 385.88L348.49 388.67M316.61 385.88L312.34 376.29M316.57 375.48L348.53 377.16M316.57 375.48L311.97 366.04M316.55 365.36L348.55 365.36M316.55 365.36L311.46 356.17M316.55 354.4L348.55 354.4M316.55 354.4L311.46 345.21M316.55 343.44L348.55 343.44M316.55 343.44L311.46 334.25M316.55 332.48L348.55 332.48M316.55 332.48L311.46 323.29M320.85 332.48L318.18 327.66M316.55 321.51L348.55 321.51M316.55 321.51L311.46 312.33M320.85 321.51L318.18 316.7M316.55 310.55L348.55 310.55M316.55 310.55L311.46 301.37M320.85 310.55L318.18 305.74M316.55 299.59L348.55 299.59M316.55 299.59L311.46 290.41M320.85 299.59L315.76 290.41M316.55 288.63L348.55 288.63M316.55 288.63L311.46 279.45M320.85 288.63L315.76 279.45M316.55 277.67L348.55 277.67M316.55 277.67L311.46 268.49M320.85 277.67L315.76 268.49M325.15 277.67L322.48 272.86M316.55 266.71L348.55 266.71M316.55 266.71L311.46 257.53M320.85 266.71L315.76 257.53M325.15 266.71L322.48 261.9M316.55 255.75L348.55 255.75M316.55 255.75L311.46 246.57M320.85 255.75L315.76 246.57M325.15 255.75L320.06 246.57M329.45 255.75L326.78 250.94M316.55 244.79L348.55 244.79M316.55 244.79L311.46 235.61M320.85 244.79L315.76 235.61M325.15 244.79L322.48 239.98M316.55 233.83L348.55 233.83M316.55 233.83L311.46 224.65M320.85 233.83L315.76 224.65M325.15 233.83L320.06 224.65M329.45 233.83L326.78 229.02M316.55 222.87L348.55 222.87M316.55 222.87L311.46 213.68M320.85 222.87L315.76 213.68M325.15 222.87L320.06 213.68M329.45 222.87L324.36 213.68M316.55 211.91L348.55 211.91M316.55 211.91L311.46 202.72M320.85 211.91L315.76 202.72M325.15 211.91L320.06 202.72M329.45 211.91L326.78 207.1M316.56 200.39L348.54 201.5M316.56 200.39L311.79 191.03M320.86 200.54L316.09 191.18M325.15 200.69L320.39 191.33M316.59 188.87L348.51 191.1M316.59 188.87L312.15 179.35M320.88 189.17L316.44 179.65M325.17 189.47L320.73 179.95M316.64 177.35L348.46 180.7M316.64 177.35L312.53 167.69M320.91 177.8L316.81 168.14M316.71 165.84L348.39 170.29M316.71 165.84L312.94 156.03M320.96 166.44L317.2 156.63M316.79 154.33L348.31 159.88M316.79 154.33L313.37 144.4M321.03 155.07L317.61 145.14M316.79 143.36L348.31 148.92M316.79 143.36L313.37 133.44M321.03 144.11L317.61 134.18M316.79 132.4L348.31 137.96M316.79 132.4L313.37 122.48M321.03 133.15L317.61 123.22M316.79 121.44L348.31 127M316.79 121.44L313.37 111.52M321.03 122.19L317.61 112.26M316.79 110.48L348.31 116.04M316.79 110.48L313.37 100.55M321.03 111.23L317.61 101.3M316.79 99.52L348.31 105.08M316.79 99.52L313.37 89.59M321.03 100.27L317.61 90.34M376.54 406.42L408.06 411.98M379.72 406.98L377.93 401.78M376.65 394.91L407.95 401.57M376.65 394.91L373.58 384.87M376.65 383.95L407.95 390.61M376.65 383.95L373.58 373.91M376.65 372.99L407.95 379.64M376.65 372.99L373.58 362.95M376.65 362.03L407.95 368.68M376.65 362.03L373.58 351.99M376.65 351.07L407.95 357.72M376.65 351.07L373.58 341.03M376.65 340.11L407.95 346.76M376.65 340.11L373.58 330.07M376.54 329.7L408.06 335.25M376.54 329.7L373.12 319.77M376.36 320.12L408.24 322.91M376.36 320.12L372.09 310.53M376.32 309.72L408.28 311.39M376.32 309.72L371.72 300.28M380.62 309.94L378.2 305M376.32 298.76L408.28 300.43M376.32 298.76L371.72 289.32M380.62 298.98L378.2 294.04M376.3 288.63L408.3 288.63M376.3 288.63L371.21 279.45M380.6 288.63L375.51 279.45M376.3 277.67L408.3 277.67M376.3 277.67L371.21 268.49M380.6 277.67L375.51 268.49M384.9 277.67L379.81 268.49M376.3 266.71L408.3 266.71M376.3 266.71L371.21 257.53M380.6 266.71L375.51 257.53M384.9 266.71L379.81 257.53M389.2 266.71L386.53 261.9M376.3 255.75L408.3 255.75M376.3 255.75L371.21 246.57M380.6 255.75L375.51 246.57M384.9 255.75L379.81 246.57M389.2 255.75L384.11 246.57M376.3 244.79L408.3 244.79M376.3 244.79L371.21 235.61M380.6 244.79L375.51 235.61M384.9 244.79L379.81 235.61M389.2 244.79L384.11 235.61M376.3 233.83L408.3 233.83M376.3 233.83L371.21 224.65M380.6 233.83L375.51 224.65M384.9 233.83L379.81 224.65M389.2 233.83L384.11 224.65M393.5 233.83L390.83 229.02M376.3 222.87L408.3 222.87M376.3 222.87L371.21 213.68M380.6 222.87L375.51 213.68M384.9 222.87L379.81 213.68M389.2 222.87L384.11 213.68M393.5 222.87L390.83 218.06M376.3 211.91L408.3 211.91M376.3 200.95L408.3 200.95M376.3 200.95L371.21 191.76M380.6 200.95L375.51 191.76M384.9 200.95L379.81 191.76M389.2 200.95L384.11 191.76M376.31 189.43L408.29 190.54M376.31 189.43L371.54 180.07M380.61 189.58L375.84 180.22M384.9 189.73L380.14 180.37M376.34 177.91L408.26 180.14M376.34 177.91L371.9 168.39M380.63 178.21L376.19 168.69M376.54 165.29L408.06 170.84M376.54 165.29L373.12 155.36M380.78 166.03L377.36 156.1M376.54 154.33L408.06 159.88M376.54 154.33L373.12 144.4M380.78 155.07L377.36 145.14M376.54 143.36L408.06 148.92M376.54 143.36L373.12 133.44M380.78 144.11L377.36 134.18M376.54 132.4L408.06 137.96M376.54 132.4L373.12 122.48M380.78 133.15L377.36 123.22M376.54 121.44L408.06 127M376.54 121.44L373.12 111.52M380.78 122.19L377.36 112.26M376.54 110.48L408.06 116.04M376.54 110.48L373.12 100.55M380.78 111.23L377.36 101.3M376.54 99.52L408.06 105.08M376.54 99.52L373.12 89.59M380.78 100.27L377.36 90.34M436.6 405.06L467.5 413.34M439.71 405.89L438.38 400.56M436.6 394.1L467.5 402.38M439.71 394.93L438.38 389.6M436.6 383.14L467.5 391.42M439.71 383.97L438.38 378.64M437.92 368.81L466.18 383.83M437.92 368.81L437.74 358.31M437.92 357.85L466.18 372.87M437.92 357.85L437.74 347.35M437.92 346.88L466.18 361.91M437.92 346.88L437.74 336.39M437.55 336.67L466.55 350.2M437.55 336.67L436.82 326.2M436.6 328.33L467.5 336.62M436.6 328.33L434.06 318.15M436.29 318.74L467.81 324.29M436.29 318.74L432.87 308.81M436.29 307.78L467.81 313.33M436.29 307.78L432.87 297.85M436.21 297.37L467.89 301.82M439.4 297.81L437.43 292.68M436.11 287.24L467.99 290.03M436.11 287.24L431.84 277.65M440.39 287.61L436.12 278.02M436.07 276.83L468.03 278.51M436.07 276.83L431.47 267.4M440.37 277.06L435.76 267.62M444.66 277.28L442.25 272.34M436.06 266.15L468.04 267.27M436.06 266.15L431.29 256.8M440.36 266.3L435.59 256.95M444.65 266.45L439.89 257.1M448.95 266.6L446.45 261.7M436.05 255.75L468.05 255.75M436.05 255.75L430.96 246.57M440.35 255.75L435.26 246.57M444.65 255.75L439.56 246.57M448.95 255.75L443.86 246.57M436.05 244.79L468.05 244.79M436.05 244.79L430.96 235.61M440.35 244.79L435.26 235.61M444.65 244.79L439.56 235.61M448.95 244.79L443.86 235.61M436.05 233.83L468.05 233.83M436.05 222.87L468.05 222.87M436.05 211.91L468.05 211.91M436.05 211.91L430.96 202.72M440.35 211.91L435.26 202.72M444.65 211.91L439.56 202.72M448.95 211.91L443.86 202.72M453.25 211.91L450.58 207.1M436.05 200.95L468.05 200.95M436.05 200.95L430.96 191.76M440.35 200.95L435.26 191.76M444.65 200.95L439.56 191.76M448.95 200.95L443.86 191.76M436.05 189.99L468.05 189.99M436.05 189.99L430.96 180.8M440.35 189.99L435.26 180.8M444.65 189.99L441.98 185.18M436.07 178.19L468.03 179.86M436.07 178.19L431.47 168.75M440.37 178.41L435.76 168.98M436.21 165.84L467.89 170.29M436.21 165.84L432.44 156.03M440.46 166.44L438.49 161.3M436.29 154.33L467.81 159.88M436.29 154.33L432.87 144.4M440.53 155.07L437.11 145.14M436.29 143.36L467.81 148.92M436.29 143.36L432.87 133.44M440.53 144.11L437.11 134.18M436.29 132.4L467.81 137.96M436.29 132.4L432.87 122.48M440.53 133.15L437.11 123.22M436.29 121.44L467.81 127M436.29 121.44L432.87 111.52M440.53 122.19L437.11 112.26M436.29 110.48L467.81 116.04M436.29 110.48L432.87 100.55M440.53 111.23L437.11 101.3M436.29 99.52L467.81 105.08M436.29 99.52L432.87 89.59M440.53 100.27L437.11 90.34M496.35 405.06L527.25 413.34M499.46 405.89L498.13 400.56M496.35 394.1L527.25 402.38M499.46 394.93L498.13 389.6M496.76 381.81L526.84 392.75M499.8 382.91L498.94 377.48M497.94 368.32L525.66 384.32M497.94 368.32L498.13 357.82M498.69 356.18L524.91 374.53M498.69 356.18L499.79 345.74M499.54 344.11L524.06 364.68M499.54 344.11L501.55 333.8M499.54 333.15L524.06 353.72M502.01 335.22L503.06 329.83M498.69 323.3L524.91 341.65M501.34 325.15L501.91 319.68M497.94 313.51L525.66 329.51M500.74 315.13L500.83 309.63M496.76 305.08L526.84 316.03M499.8 306.18L498.94 300.75M496.15 296.27L527.45 302.92M496.15 296.27L493.08 286.23M495.89 286.96L527.71 290.3M495.89 286.96L491.78 277.29M500.16 287.41L498.02 282.35M495.89 276L527.71 279.34M495.89 276L491.78 266.33M500.16 276.45L498.02 271.39M495.82 265.87L527.78 267.55M495.82 265.87L491.22 256.44M500.12 266.1L495.51 256.66M495.82 254.91L527.78 256.59M495.82 254.91L491.22 245.48M500.12 255.14L495.51 245.7M495.81 244.23L527.79 245.35M495.81 244.23L491.04 234.88M500.11 244.38L495.34 235.03M504.4 244.53L501.91 239.63M495.8 233.83L527.8 233.83M495.8 233.83L490.71 224.65M500.1 233.83L495.01 224.65M504.4 233.83L499.31 224.65M495.8 222.87L527.8 222.87M495.8 222.87L490.71 213.68M500.1 222.87L495.01 213.68M504.4 222.87L499.31 213.68M508.7 222.87L506.03 218.06M495.8 211.91L527.8 211.91M495.8 211.91L490.71 202.72M500.1 211.91L495.01 202.72M504.4 211.91L499.31 202.72M508.7 211.91L506.03 207.1M495.81 200.39L527.79 201.5M495.81 200.39L491.04 191.03M500.11 200.54L495.34 191.18M504.4 200.69L501.91 195.79M495.86 188.59L527.74 191.38M495.86 188.59L491.59 179M500.14 188.97L495.87 179.37M495.86 177.63L527.74 180.42M495.86 177.63L491.59 168.04M500.14 178.01L495.87 168.41M495.96 165.84L527.64 170.29M495.96 165.84L492.19 156.03M500.21 166.44L498.24 161.3M496.04 154.33L527.56 159.88M496.04 154.33L492.62 144.4M500.28 155.07L498.49 149.87M496.04 143.36L527.56 148.92M496.04 143.36L492.62 133.44M500.28 144.11L498.49 138.91M496.04 132.4L527.56 137.96M496.04 132.4L492.62 122.48M500.28 133.15L498.49 127.95M496.04 121.44L527.56 127M496.04 121.44L492.62 111.52M500.28 122.19L498.49 116.99M496.04 110.48L527.56 116.04M496.04 110.48L492.62 100.55M500.28 111.23L498.49 106.03M496.04 99.52L527.56 105.08M496.04 99.52L492.62 89.59M500.28 100.27L498.49 95.07M556.1 405.06L587 413.34M559.21 405.89L557.88 400.56M556.1 394.1L587 402.38M559.21 394.93L557.88 389.6M556.1 383.14L587 391.42M559.21 383.97L557.88 378.64M556.51 370.85L586.59 381.79M559.55 371.95L558.69 366.52M557.69 357.36L585.41 373.36M560.49 358.97L560.58 353.47M557.69 346.4L585.41 362.4M560.49 348.01L560.58 342.51M557.69 335.44L585.41 351.44M560.49 337.05L560.58 331.55M557.69 324.48L585.41 340.48M560.49 326.09L560.58 320.59M557.05 314.75L586.05 328.28M559.97 316.12L559.59 310.63M556.51 305.08L586.59 316.03M559.55 306.18L558.69 300.75M557.05 292.83L586.05 306.35M557.05 292.83L556.32 282.36M557.05 281.87L586.05 295.39M557.05 281.87L556.32 271.4M557.05 270.91L586.05 284.43M557.05 270.91L556.32 260.44M556.51 261.24L586.59 272.18M559.55 262.34L558.69 256.91M556.33 250.81L586.77 260.69M556.33 250.81L554.33 240.5M560.42 252.13L559.37 246.74M555.9 241.46L587.2 248.12M555.9 241.46L552.83 231.42M560.11 242.36L558.5 237.1M555.71 231.6L587.39 236.06M555.71 231.6L551.94 221.8M559.96 232.2L557.99 227.07M555.59 221.75L587.51 223.98M555.59 221.75L551.15 212.24M559.88 222.05L555.44 212.54M555.59 210.79L587.51 213.02M555.59 210.79L551.15 201.27M559.88 211.09L555.44 201.57M564.17 211.39L561.84 206.41M555.59 199.83L587.51 202.06M555.59 199.83L551.15 190.31M559.88 200.13L555.44 190.61M564.17 200.43L561.84 195.45M555.59 188.87L587.51 191.1M555.59 188.87L551.15 179.35M559.88 189.17L555.44 179.65M564.17 189.47L561.84 184.48M555.61 177.63L587.49 180.42M555.61 177.63L551.34 168.04M559.89 178.01L555.62 168.41M555.61 166.67L587.49 169.46M555.61 166.67L551.34 157.08M559.89 167.04L555.62 157.45M555.61 155.71L587.49 158.5M555.61 155.71L551.34 146.12M559.89 156.08L555.62 146.49M555.75 143.64L587.35 148.65M555.75 143.64L552.16 133.77M559.99 144.31L558.11 139.14M555.75 132.68L587.35 137.69M555.75 132.68L552.16 122.81M559.99 133.35L558.11 128.18M555.75 121.72L587.35 126.72M555.75 121.72L552.16 111.85M559.99 122.39L558.11 117.22M555.75 110.76L587.35 115.76M555.75 110.76L552.16 100.89M559.99 111.43L558.11 106.26M555.75 99.8L587.35 104.8M555.75 99.8L552.16 89.93M559.99 100.47L558.11 95.3M615.85 405.06L646.75 413.34M618.96 405.89L617.63 400.56M615.85 394.1L646.75 402.38M618.96 394.93L617.63 389.6M615.85 383.14L646.75 391.42M618.96 383.97L617.63 378.64M616.26 370.85L646.34 381.79M619.3 371.95L618.44 366.52M616.26 359.88L646.34 370.83M619.3 360.99L618.44 355.56M616.26 348.92L646.34 359.87M619.3 350.03L618.44 344.59M616.26 337.96L646.34 348.91M619.3 339.07L618.44 333.63M616.26 327L646.34 337.95M619.3 328.11L618.44 322.67M616.26 316.04L646.34 326.99M619.3 317.14L618.44 311.71M616.26 305.08L646.34 316.03M619.3 306.18L618.44 300.75M616.68 293.09L645.92 306.1M619.63 294.4L619.15 288.92M616.36 282.9L646.24 294.37M616.36 282.9L614.9 272.5M616.36 271.94L646.24 283.41M616.36 271.94L614.9 261.54M617.17 259.2L645.43 274.22M617.17 259.2L616.99 248.7M620.59 243.86L642.01 267.64M620.59 243.86L624.01 233.93M623.47 247.06L625.26 241.85M627.97 229.14L634.63 260.44M627.97 229.14L635.9 222.25M628.87 233.34L633.02 229.74M624.29 219.45L638.31 248.21M624.29 219.45L630.31 210.85M626.17 223.31L632.19 214.71M616.36 217.13L646.24 228.6M616.36 217.13L614.9 206.74M620.38 218.67L619.61 213.23M615.46 209.68L647.14 214.13M615.46 209.68L611.69 199.88M619.71 210.28L615.95 200.48M615.46 198.72L647.14 203.17M615.46 198.72L611.69 188.92M619.71 199.32L615.95 189.52M615.46 187.76L647.14 192.21M615.46 187.76L611.69 177.96M619.71 188.36L615.95 178.55M615.46 176.8L647.14 181.25M615.46 176.8L611.69 167M619.71 177.4L615.95 167.59M615.46 165.84L647.14 170.29M615.46 165.84L611.69 156.03M619.71 166.44L615.95 156.63M615.46 154.88L647.14 159.33M615.46 154.88L611.69 145.07M619.71 155.48L617.74 150.34M615.46 143.92L647.14 148.37M615.46 143.92L611.69 134.11M619.71 144.51L617.74 139.38M615.46 132.96L647.14 137.41M615.46 132.96L611.69 123.15M619.71 133.55L615.95 123.75M615.46 121.99L647.14 126.45M615.46 121.99L611.69 112.19M619.71 122.59L615.95 112.79M615.46 111.03L647.14 115.49M615.46 111.03L611.69 101.23M619.71 111.63L615.95 101.83M615.46 100.07L647.14 104.53M615.46 100.07L611.69 90.27M619.71 100.67L615.95 90.87M675.6 405.06L706.5 413.34M678.71 405.89L677.38 400.56M675.6 394.1L706.5 402.38M678.71 394.93L677.38 389.6M675.6 383.14L706.5 391.42M678.71 383.97L677.38 378.64M675.6 372.18L706.5 380.46M678.71 373.01L677.38 367.67M675.6 361.22L706.5 369.5M678.71 362.05L677.38 356.71M675.6 350.26L706.5 358.54M678.71 351.09L677.38 345.75M675.6 339.29L706.5 347.58M678.71 340.13L677.38 334.79M675.6 328.33L706.5 336.62M678.71 329.17L677.38 323.83M675.6 317.37L706.5 325.66M678.71 318.21L677.38 312.87M675.6 306.41L706.5 314.69M678.71 307.25L677.38 301.91M675.6 295.45L706.5 303.73M678.71 296.29L677.38 290.95M675.6 284.49L706.5 292.77M678.71 285.33L677.38 279.99M675.29 274.89L706.81 280.45M675.29 274.89L671.87 264.97M675.29 263.93L706.81 269.49M675.29 263.93L671.87 254M675.29 252.97L706.81 258.53M675.29 252.97L671.87 243.04M675.53 240.92L706.57 248.66M675.53 240.92L672.81 230.78M679.7 241.96L678.27 236.65M675.75 229.15L706.35 238.51M675.75 229.15L673.57 218.88M679.86 230.41L678.72 225.03M675.67 218.46L706.43 227.28M675.67 218.46L673.31 208.23M679.8 219.64L678.57 214.28M675.34 208.85L706.76 214.96M675.34 208.85L672.1 198.87M679.56 209.67L676.32 199.69M675.17 199L706.93 202.9M675.17 199L671.24 189.26M679.44 199.52L675.5 189.79M675.17 188.04L706.93 191.94M675.17 188.04L671.24 178.3M679.44 188.56L675.5 178.82M675.17 177.08L706.93 180.97M675.17 177.08L671.24 167.34M679.44 177.6L675.5 167.86M675.17 166.11L706.93 170.01M675.17 166.11L671.24 156.38M679.44 166.64L675.5 156.9M675.21 154.88L706.89 159.33M675.21 154.88L671.44 145.07M679.46 155.48L677.49 150.34M675.21 143.92L706.89 148.37M675.21 143.92L671.44 134.11M679.46 144.51L677.49 139.38M675.21 132.96L706.89 137.41M675.21 132.96L671.44 123.15M679.46 133.55L675.7 123.75M675.21 121.99L706.89 126.45M675.21 121.99L671.44 112.19M679.46 122.59L675.7 112.79M675.21 111.03L706.89 115.49M675.21 111.03L671.44 101.23M679.46 111.63L675.7 101.83M675.21 100.07L706.89 104.53M675.21 100.07L671.44 90.27M679.46 100.67L675.7 90.87M734.82 408.36L766.78 410.04M738.04 408.53L735.63 403.59M734.82 397.4L766.78 399.08M738.04 397.57L735.63 392.63M734.82 386.44L766.78 388.12M738.04 386.61L735.63 381.67M734.82 375.48L766.78 377.16M738.04 375.65L735.63 370.71M734.82 364.52L766.78 366.19M738.04 364.69L735.63 359.75M734.82 353.56L766.78 355.23M738.04 353.73L735.63 348.78M734.82 342.6L766.78 344.27M738.04 342.77L735.63 337.82M734.82 331.64L766.78 333.31M738.04 331.81L735.63 326.86M734.82 320.68L766.78 322.35M738.04 320.85L735.63 315.9M734.82 309.72L766.78 311.39M738.04 309.88L735.63 304.94M734.82 298.76L766.78 300.43M738.04 298.92L735.63 293.98M734.92 286.68L766.68 290.58M734.92 286.68L730.99 276.95M734.92 275.72L766.68 279.62M734.92 275.72L730.99 265.99M734.92 264.76L766.68 268.66M734.92 264.76L730.99 255.03M739.19 265.28L737.13 260.19M734.92 253.8L766.68 257.7M734.92 253.8L730.99 244.06M739.19 254.32L737.13 249.22M734.92 242.84L766.68 246.74M734.92 242.84L730.99 233.1M739.19 243.36L737.13 238.26M734.92 231.88L766.68 235.78M734.92 231.88L730.99 222.14M739.19 232.4L737.13 227.3M734.96 220.64L766.64 225.09M734.96 220.64L731.19 210.84M739.21 221.24L735.45 211.44M734.96 209.68L766.64 214.13M734.96 209.68L731.19 199.88M739.21 210.28L735.45 200.48M734.96 198.72L766.64 203.17M734.96 198.72L731.19 188.92M739.21 199.32L735.45 189.52M734.96 187.76L766.64 192.21M734.96 187.76L731.19 177.96M739.21 188.36L735.45 178.55M734.96 176.8L766.64 181.25M734.96 176.8L731.19 167M739.21 177.4L735.45 167.59M734.96 165.84L766.64 170.29M734.96 165.84L731.19 156.03M739.21 166.44L735.45 156.63M734.96 154.88L766.64 159.33M734.96 154.88L731.19 145.07M739.21 155.48L735.45 145.67M734.96 143.92L766.64 148.37M734.96 143.92L731.19 134.11M739.21 144.51L735.45 134.71M734.96 132.96L766.64 137.41M734.96 132.96L731.19 123.15M739.21 133.55L735.45 123.75M734.96 121.99L766.64 126.45M734.96 121.99L731.19 112.19M739.21 122.59L737.24 117.46M734.96 111.03L766.64 115.49M734.96 111.03L731.19 101.23M739.21 111.63L737.24 106.5M734.96 100.07L766.64 104.53M734.96 100.07L731.19 90.27M739.21 100.67L737.24 95.54M794.57 408.36L826.53 410.04M797.79 408.53L795.38 403.59M794.57 397.4L826.53 399.08M797.79 397.57L795.38 392.63M794.57 386.44L826.53 388.12M794.57 386.44L789.97 377M794.57 375.48L826.53 377.16M794.57 375.48L789.97 366.04M794.57 364.52L826.53 366.19M794.57 364.52L789.97 355.08M794.57 353.56L826.53 355.23M794.57 353.56L789.97 344.12M794.57 342.6L826.53 344.27M794.57 342.6L789.97 333.16M794.57 331.64L826.53 333.31M797.79 331.81L795.38 326.86M794.57 320.68L826.53 322.35M797.79 320.85L795.38 315.9M794.57 309.72L826.53 311.39M794.57 309.72L789.97 300.28M794.57 298.76L826.53 300.43M794.57 298.76L789.97 289.32M794.57 287.79L826.53 289.47M794.57 287.79L789.97 278.36M794.61 276.28L826.49 279.07M794.61 276.28L790.34 266.68M798.89 276.65L796.66 271.63M794.61 265.32L826.49 268.11M794.61 265.32L790.34 255.72M794.64 254.08L826.46 257.42M794.64 254.08L790.53 244.41M798.91 254.53L796.77 249.46M794.64 243.12L826.46 246.46M794.64 243.12L790.53 233.45M798.91 243.57L796.77 238.5M794.64 232.16L826.46 235.5M794.64 232.16L790.53 222.49M798.91 232.61L796.77 227.54M794.71 220.64L826.39 225.09M794.71 220.64L790.94 210.84M798.96 221.24L795.2 211.44M794.71 209.68L826.39 214.13M794.71 209.68L790.94 199.88M798.96 210.28L795.2 200.48M794.71 198.72L826.39 203.17M794.71 198.72L790.94 188.92M798.96 199.32L795.2 189.52M794.71 187.76L826.39 192.21M794.71 187.76L790.94 177.96M798.96 188.36L795.2 178.55M794.71 176.8L826.39 181.25M794.71 176.8L790.94 167M798.96 177.4L795.2 167.59M803.22 178L801.25 172.86M794.71 165.84L826.39 170.29M794.71 165.84L790.94 156.03M798.96 166.44L795.2 156.63M803.22 167.03L801.25 161.9M794.71 154.88L826.39 159.33M794.71 154.88L790.94 145.07M798.96 155.48L795.2 145.67M803.22 156.07L801.25 150.94M794.71 143.92L826.39 148.37M794.71 143.92L790.94 134.11M798.96 144.51L795.2 134.71M794.71 132.96L826.39 137.41M794.71 132.96L790.94 123.15M798.96 133.55L795.2 123.75M794.71 121.99L826.39 126.45M794.71 121.99L790.94 112.19M798.96 122.59L795.2 112.79M794.71 111.03L826.39 115.49M794.71 111.03L790.94 101.23M798.96 111.63L795.2 101.83M794.71 100.07L826.39 104.53M794.71 100.07L790.94 90.27M798.96 100.67L795.2 90.87M854.3 409.2L886.3 409.2M857.52 409.2L854.86 404.39M854.3 398.24L886.3 398.24M854.3 398.24L849.21 389.06M854.3 387.28L886.3 387.28M854.3 387.28L849.21 378.1M854.3 376.32L886.3 376.32M854.3 376.32L849.21 367.13M854.3 365.36L886.3 365.36M854.3 365.36L849.21 356.17M854.3 354.4L886.3 354.4M854.3 354.4L849.21 345.21M854.3 343.44L886.3 343.44M854.3 343.44L849.21 334.25M854.3 332.48L886.3 332.48M854.3 332.48L849.21 323.29M854.3 321.51L886.3 321.51M854.3 321.51L849.21 312.33M854.3 310.55L886.3 310.55M854.3 310.55L849.21 301.37M854.3 299.59L886.3 299.59M854.3 299.59L849.21 290.41M854.3 288.63L886.3 288.63M854.3 288.63L849.21 279.45M858.6 288.63L855.93 283.82M854.3 277.67L886.3 277.67M854.3 277.67L849.21 268.49M858.6 277.67L855.93 272.86M854.3 266.71L886.3 266.71M854.3 266.71L849.21 257.53M858.6 266.71L855.93 261.9M854.3 255.75L886.3 255.75M854.3 255.75L849.21 246.57M858.6 255.75L853.51 246.57M854.36 243.39L886.24 246.18M854.36 243.39L850.09 233.8M858.64 243.77L854.37 234.18M854.36 232.43L886.24 235.22M854.36 232.43L850.09 222.84M858.64 232.81L854.37 223.22M854.36 221.47L886.24 224.26M854.36 221.47L850.09 211.88M858.64 221.85L854.37 212.26M854.36 210.51L886.24 213.3M854.36 210.51L850.09 200.92M858.64 210.89L854.37 201.3M854.36 199.55L886.24 202.34M854.36 199.55L850.09 189.96M858.64 199.93L854.37 190.33M854.36 188.59L886.24 191.38M854.36 188.59L850.09 179M858.64 188.97L854.37 179.37M854.36 177.63L886.24 180.42M854.36 177.63L850.09 168.04M858.64 178.01L854.37 168.41M854.36 166.67L886.24 169.46M854.36 166.67L850.09 157.08M858.64 167.04L854.37 157.45M854.36 155.71L886.24 158.5M854.36 155.71L850.09 146.12M858.64 156.08L854.37 146.49M854.36 144.75L886.24 147.54M854.36 144.75L850.09 135.16M858.64 145.12L854.37 135.53M854.36 133.79L886.24 136.58M854.36 133.79L850.09 124.2M858.64 134.16L854.37 124.57M854.36 122.83L886.24 125.62M854.36 122.83L850.09 113.23M858.64 123.2L854.37 113.61M854.36 111.87L886.24 114.66M854.36 111.87L850.09 102.27M858.64 112.24L854.37 102.65M854.36 100.91L886.24 103.69M854.36 100.91L850.09 91.31M858.64 101.28L854.37 91.69" fill="none" stroke="#000" stroke-width="0.8" stroke-linecap="butt"/><path d="M376.3 211.91L375.51 202.72L380.6 211.91ZM436.05 233.83L435.26 224.65L440.35 233.83ZM436.05 222.87L435.26 213.68L440.35 222.87Z" fill="#000"/>
</g>
<path d="M153.3 409.2V398.2M153.3 102.3V113.3M213.05 409.2V398.2M213.05 102.3V113.3M272.8 409.2V398.2M272.8 102.3V113.3M332.55 409.2V398.2M332.55 102.3V113.3M392.3 409.2V398.2M392.3 102.3V113.3M452.05 409.2V398.2M452.05 102.3V113.3M511.8 409.2V398.2M511.8 102.3V113.3M571.55 409.2V398.2M571.55 102.3V113.3M631.3 409.2V398.2M631.3 102.3V113.3M691.05 409.2V398.2M691.05 102.3V113.3M750.8 409.2V398.2M750.8 102.3V113.3M810.55 409.2V398.2M810.55 102.3V113.3M870.3 409.2V398.2M870.3 102.3V113.3M153.3 409.2H177.3M870.3 409.2H846.3M153.3 398.24H165.3M870.3 398.24H858.3M153.3 387.28H165.3M870.3 387.28H858.3M153.3 376.32H165.3M870.3 376.32H858.3M153.3 365.36H177.3M870.3 365.36H846.3M153.3 354.4H165.3M870.3 354.4H858.3M153.3 343.44H165.3M870.3 343.44H858.3M153.3 332.48H165.3M870.3 332.48H858.3M153.3 321.51H177.3M870.3 321.51H846.3M153.3 310.55H165.3M870.3 310.55H858.3M153.3 299.59H165.3M870.3 299.59H858.3M153.3 288.63H165.3M870.3 288.63H858.3M153.3 277.67H177.3M870.3 277.67H846.3M153.3 266.71H165.3M870.3 266.71H858.3M153.3 255.75H165.3M870.3 255.75H858.3M153.3 244.79H165.3M870.3 244.79H858.3M153.3 233.83H177.3M870.3 233.83H846.3M153.3 222.87H165.3M870.3 222.87H858.3M153.3 211.91H165.3M870.3 211.91H858.3M153.3 200.95H165.3M870.3 200.95H858.3M153.3 189.99H177.3M870.3 189.99H846.3M153.3 179.03H165.3M870.3 179.03H858.3M153.3 168.06H165.3M870.3 168.06H858.3M153.3 157.1H165.3M870.3 157.1H858.3M153.3 146.14H177.3M870.3 146.14H846.3M153.3 135.18H165.3M870.3 135.18H858.3M153.3 124.22H165.3M870.3 124.22H858.3M153.3 113.26H165.3M870.3 113.26H858.3M153.3 102.3H177.3M870.3 102.3H846.3" stroke="#000" stroke-width="1.2" fill="none"/>
<rect x="153.3" y="102.3" width="717" height="306.9" fill="none" stroke="#000" stroke-width="1.3"/>
<g font-family='"Liberation Sans", sans-serif' fill="#000">
<text x="144.2" y="414.1" font-size="14.6" text-anchor="end">0</text>
<text x="144.2" y="370.26" font-size="14.6" text-anchor="end">4</text>
<text x="144.2" y="326.41" font-size="14.6" text-anchor="end">8</text>
<text x="144.2" y="282.57" font-size="14.6" text-anchor="end">12</text>
<text x="144.2" y="238.73" font-size="14.6" text-anchor="end">16</text>
<text x="144.2" y="194.89" font-size="14.6" text-anchor="end">20</text>
<text x="144.2" y="151.04" font-size="14.6" text-anchor="end">24</text>
<text x="144.2" y="107.2" font-size="14.6" text-anchor="end">28</text>
<text x="0" y="0" transform="translate(169,425.7) rotate(-45)" font-size="12.7" text-anchor="end">21_12</text>
<text x="0" y="0" transform="translate(228.75,425.7) rotate(-45)" font-size="12.7" text-anchor="end">21_15</text>
<text x="0" y="0" transform="translate(288.5,425.7) rotate(-45)" font-size="12.7" text-anchor="end">21_18</text>
<text x="0" y="0" transform="translate(348.25,425.7) rotate(-45)" font-size="12.7" text-anchor="end">21_21</text>
<text x="0" y="0" transform="translate(408,425.7) rotate(-45)" font-size="12.7" text-anchor="end">22_00</text>
<text x="0" y="0" transform="translate(467.75,425.7) rotate(-45)" font-size="12.7" text-anchor="end">22_03</text>
<text x="0" y="0" transform="translate(527.5,425.7) rotate(-45)" font-size="12.7" text-anchor="end">22_06</text>
<text x="0" y="0" transform="translate(587.25,425.7) rotate(-45)" font-size="12.7" text-anchor="end">22_09</text>
<text x="0" y="0" transform="translate(647,425.7) rotate(-45)" font-size="12.7" text-anchor="end">22_12</text>
<text x="0" y="0" transform="translate(706.75,425.7) rotate(-45)" font-size="12.7" text-anchor="end">22_15</text>
<text x="0" y="0" transform="translate(766.5,425.7) rotate(-45)" font-size="12.7" text-anchor="end">22_18</text>
<text x="0" y="0" transform="translate(826.25,425.7) rotate(-45)" font-size="12.7" text-anchor="end">22_21</text>
<text x="0" y="0" transform="translate(886,425.7) rotate(-45)" font-size="12.7" text-anchor="end">23_00</text>
</g>
<rect x="958" y="113" width="19.2" height="2.97" fill="#f59e9e"/>
<rect x="958" y="115.95" width="19.2" height="2.97" fill="#ee8a8a"/>
<rect x="958" y="118.89" width="19.2" height="2.97" fill="#e77676"/>
<rect x="958" y="121.84" width="19.2" height="2.97" fill="#e06161"/>
<rect x="958" y="124.79" width="19.2" height="2.97" fill="#d94c4c"/>
<rect x="958" y="127.74" width="19.2" height="2.97" fill="#d23939"/>
<rect x="958" y="130.68" width="19.2" height="2.97" fill="#ca2626"/>
<rect x="958" y="133.63" width="19.2" height="2.97" fill="#c51313"/>
<rect x="958" y="136.58" width="19.2" height="2.97" fill="#c00000"/>
<rect x="958" y="139.53" width="19.2" height="2.97" fill="#c70000"/>
<rect x="958" y="142.47" width="19.2" height="2.97" fill="#ce0000"/>
<rect x="958" y="145.42" width="19.2" height="2.97" fill="#d70000"/>
<rect x="958" y="148.37" width="19.2" height="2.97" fill="#e10000"/>
<rect x="958" y="151.32" width="19.2" height="2.97" fill="#eb0000"/>
<rect x="958" y="154.26" width="19.2" height="2.97" fill="#f70000"/>
<rect x="958" y="157.21" width="19.2" height="2.97" fill="#ff0200"/>
<rect x="958" y="160.16" width="19.2" height="2.97" fill="#ff0900"/>
<rect x="958" y="163.11" width="19.2" height="2.97" fill="#ff0f00"/>
<rect x="958" y="166.05" width="19.2" height="2.97" fill="#ff1c00"/>
<rect x="958" y="169" width="19.2" height="2.97" fill="#ff2900"/>
<rect x="958" y="171.95" width="19.2" height="2.97" fill="#ff3600"/>
<rect x="958" y="174.9" width="19.2" height="2.97" fill="#ff4200"/>
<rect x="958" y="177.84" width="19.2" height="2.97" fill="#ff4e00"/>
<rect x="958" y="180.79" width="19.2" height="2.97" fill="#ff5900"/>
<rect x="958" y="183.74" width="19.2" height="2.97" fill="#ff6500"/>
<rect x="958" y="186.69" width="19.2" height="2.97" fill="#ff7100"/>
<rect x="958" y="189.63" width="19.2" height="2.97" fill="#ff7a00"/>
<rect x="958" y="192.58" width="19.2" height="2.97" fill="#ff8300"/>
<rect x="958" y="195.53" width="19.2" height="2.97" fill="#ff8b00"/>
<rect x="958" y="198.48" width="19.2" height="2.97" fill="#ff9300"/>
<rect x="958" y="201.42" width="19.2" height="2.97" fill="#ff9b00"/>
<rect x="958" y="204.37" width="19.2" height="2.97" fill="#ffa200"/>
<rect x="958" y="207.32" width="19.2" height="2.97" fill="#ffa800"/>
<rect x="958" y="210.26" width="19.2" height="2.97" fill="#ffae00"/>
<rect x="958" y="213.21" width="19.2" height="2.97" fill="#ffb404"/>
<rect x="958" y="216.16" width="19.2" height="2.97" fill="#ffbb0b"/>
<rect x="958" y="219.11" width="19.2" height="2.97" fill="#ffc111"/>
<rect x="958" y="222.05" width="19.2" height="2.97" fill="#ffc719"/>
<rect x="958" y="225" width="19.2" height="2.97" fill="#ffcd21"/>
<rect x="958" y="227.95" width="19.2" height="2.97" fill="#ffd328"/>
<rect x="958" y="230.9" width="19.2" height="2.97" fill="#ffd935"/>
<rect x="958" y="233.84" width="19.2" height="2.97" fill="#ffdf43"/>
<rect x="958" y="236.79" width="19.2" height="2.97" fill="#ffe552"/>
<rect x="958" y="239.74" width="19.2" height="2.97" fill="#ffea6b"/>
<rect x="958" y="242.69" width="19.2" height="2.97" fill="#ffef83"/>
<rect x="958" y="245.63" width="19.2" height="2.97" fill="#fff395"/>
<rect x="958" y="248.58" width="19.2" height="2.97" fill="#fff6a6"/>
<rect x="958" y="251.53" width="19.2" height="2.97" fill="#fff9b7"/>
<rect x="958" y="254.48" width="19.2" height="2.97" fill="#fffbc8"/>
<rect x="958" y="257.42" width="19.2" height="2.97" fill="#c4e2f3"/>
<rect x="958" y="260.37" width="19.2" height="2.97" fill="#bddef1"/>
<rect x="958" y="263.32" width="19.2" height="2.97" fill="#b5daef"/>
<rect x="958" y="266.27" width="19.2" height="2.97" fill="#add7ed"/>
<rect x="958" y="269.21" width="19.2" height="2.97" fill="#a6d3ec"/>
<rect x="958" y="272.16" width="19.2" height="2.97" fill="#9ed0eb"/>
<rect x="958" y="275.11" width="19.2" height="2.97" fill="#96cdea"/>
<rect x="958" y="278.06" width="19.2" height="2.97" fill="#8ecae9"/>
<rect x="958" y="281" width="19.2" height="2.97" fill="#86c7e9"/>
<rect x="958" y="283.95" width="19.2" height="2.97" fill="#7cc3e8"/>
<rect x="958" y="286.9" width="19.2" height="2.97" fill="#69c0eb"/>
<rect x="958" y="289.85" width="19.2" height="2.97" fill="#57bced"/>
<rect x="958" y="292.79" width="19.2" height="2.97" fill="#44b9f0"/>
<rect x="958" y="295.74" width="19.2" height="2.97" fill="#35b8f2"/>
<rect x="958" y="298.69" width="19.2" height="2.97" fill="#27b8f4"/>
<rect x="958" y="301.64" width="19.2" height="2.97" fill="#18b8f7"/>
<rect x="958" y="304.58" width="19.2" height="2.97" fill="#10b6f8"/>
<rect x="958" y="307.53" width="19.2" height="2.97" fill="#10b1f8"/>
<rect x="958" y="310.48" width="19.2" height="2.97" fill="#10adf8"/>
<rect x="958" y="313.42" width="19.2" height="2.97" fill="#10a8f8"/>
<rect x="958" y="316.37" width="19.2" height="2.97" fill="#10a3f8"/>
<rect x="958" y="319.32" width="19.2" height="2.97" fill="#119ff7"/>
<rect x="958" y="322.27" width="19.2" height="2.97" fill="#139af5"/>
<rect x="958" y="325.21" width="19.2" height="2.97" fill="#1595f3"/>
<rect x="958" y="328.16" width="19.2" height="2.97" fill="#1890f0"/>
<rect x="958" y="331.11" width="19.2" height="2.97" fill="#1c8aee"/>
<rect x="958" y="334.06" width="19.2" height="2.97" fill="#2183ec"/>
<rect x="958" y="337" width="19.2" height="2.97" fill="#267ce9"/>
<rect x="958" y="339.95" width="19.2" height="2.97" fill="#2975e7"/>
<rect x="958" y="342.9" width="19.2" height="2.97" fill="#2c6fe4"/>
<rect x="958" y="345.85" width="19.2" height="2.97" fill="#2f69e1"/>
<rect x="958" y="348.79" width="19.2" height="2.97" fill="#2d60e0"/>
<rect x="958" y="351.74" width="19.2" height="2.97" fill="#2a55e0"/>
<rect x="958" y="354.69" width="19.2" height="2.97" fill="#2549e2"/>
<rect x="958" y="357.64" width="19.2" height="2.97" fill="#1e3ce8"/>
<rect x="958" y="360.58" width="19.2" height="2.97" fill="#172fec"/>
<rect x="958" y="363.53" width="19.2" height="2.97" fill="#1020f0"/>
<rect x="958" y="366.48" width="19.2" height="2.97" fill="#0912f3"/>
<rect x="958" y="369.43" width="19.2" height="2.97" fill="#0204f7"/>
<rect x="958" y="372.37" width="19.2" height="2.97" fill="#0602f6"/>
<rect x="958" y="375.32" width="19.2" height="2.97" fill="#0f05f3"/>
<rect x="958" y="378.27" width="19.2" height="2.97" fill="#1808f0"/>
<rect x="958" y="381.22" width="19.2" height="2.97" fill="#270bef"/>
<rect x="958" y="384.16" width="19.2" height="2.97" fill="#360eed"/>
<rect x="958" y="387.11" width="19.2" height="2.97" fill="#4611ec"/>
<rect x="958" y="390.06" width="19.2" height="2.97" fill="#5c15ec"/>
<rect x="958" y="393.01" width="19.2" height="2.97" fill="#7119ec"/>
<rect x="958" y="395.95" width="19.2" height="2.97" fill="#7f1ced"/>
<g font-family='"Liberation Sans", sans-serif' fill="#000">
<text x="996.2" y="122.2" font-size="17.5" text-anchor="start">35</text>
<text x="996.2" y="142.85" font-size="17.5" text-anchor="start">28</text>
<text x="996.2" y="163.5" font-size="17.5" text-anchor="start">21</text>
<text x="996.2" y="184.15" font-size="17.5" text-anchor="start">14</text>
<text x="996.2" y="204.8" font-size="17.5" text-anchor="start">7</text>
<text x="996.2" y="225.45" font-size="17.5" text-anchor="start">0</text>
<text x="996.2" y="246.1" font-size="17.5" text-anchor="start">-7</text>
<text x="996.2" y="266.75" font-size="17.5" text-anchor="start">-14</text>
<text x="996.2" y="287.4" font-size="17.5" text-anchor="start">-21</text>
<text x="996.2" y="308.05" font-size="17.5" text-anchor="start">-28</text>
<text x="996.2" y="328.7" font-size="17.5" text-anchor="start">-35</text>
<text x="996.2" y="349.35" font-size="17.5" text-anchor="start">-42</text>
<text x="996.2" y="370" font-size="17.5" text-anchor="start">-49</text>
<text x="996.2" y="390.65" font-size="17.5" text-anchor="start">-56</text>
</g>
<line x1="204.6" y1="460.6" x2="204.6" y2="563.1" stroke="#2a2a2a" stroke-width="0.85" stroke-dasharray="3.5 5.9" stroke-dashoffset="5.2" fill="none"/>
<line x1="255.82" y1="460.6" x2="255.82" y2="563.1" stroke="#2a2a2a" stroke-width="0.85" stroke-dasharray="3.5 5.9" stroke-dashoffset="5.2" fill="none"/>
<line x1="307.04" y1="460.6" x2="307.04" y2="563.1" stroke="#2a2a2a" stroke-width="0.85" stroke-dasharray="3.5 5.9" stroke-dashoffset="5.2" fill="none"/>
<line x1="358.26" y1="460.6" x2="358.26" y2="563.1" stroke="#2a2a2a" stroke-width="0.85" stroke-dasharray="3.5 5.9" stroke-dashoffset="5.2" fill="none"/>
<line x1="409.48" y1="460.6" x2="409.48" y2="563.1" stroke="#2a2a2a" stroke-width="0.85" stroke-dasharray="3.5 5.9" stroke-dashoffset="5.2" fill="none"/>
<line x1="460.7" y1="460.6" x2="460.7" y2="563.1" stroke="#2a2a2a" stroke-width="0.85" stroke-dasharray="3.5 5.9" stroke-dashoffset="5.2" fill="none"/>
<line x1="511.92" y1="460.6" x2="511.92" y2="563.1" stroke="#2a2a2a" stroke-width="0.85" stroke-dasharray="3.5 5.9" stroke-dashoffset="5.2" fill="none"/>
<line x1="563.14" y1="460.6" x2="563.14" y2="563.1" stroke="#2a2a2a" stroke-width="0.85" stroke-dasharray="3.5 5.9" stroke-dashoffset="5.2" fill="none"/>
<line x1="614.36" y1="460.6" x2="614.36" y2="563.1" stroke="#2a2a2a" stroke-width="0.85" stroke-dasharray="3.5 5.9" stroke-dashoffset="5.2" fill="none"/>
<line x1="665.58" y1="460.6" x2="665.58" y2="563.1" stroke="#2a2a2a" stroke-width="0.85" stroke-dasharray="3.5 5.9" stroke-dashoffset="5.2" fill="none"/>
<line x1="716.8" y1="460.6" x2="716.8" y2="563.1" stroke="#2a2a2a" stroke-width="0.85" stroke-dasharray="3.5 5.9" stroke-dashoffset="5.2" fill="none"/>
<line x1="768.02" y1="460.6" x2="768.02" y2="563.1" stroke="#2a2a2a" stroke-width="0.85" stroke-dasharray="3.5 5.9" stroke-dashoffset="5.2" fill="none"/>
<line x1="819.24" y1="460.6" x2="819.24" y2="563.1" stroke="#2a2a2a" stroke-width="0.85" stroke-dasharray="3.5 5.9" stroke-dashoffset="5.2" fill="none"/>
<line x1="153.5" y1="475.24" x2="870.5" y2="475.24" stroke="#2a2a2a" stroke-width="0.85" stroke-dasharray="3.5 5.9" fill="none"/>
<line x1="153.5" y1="489.89" x2="870.5" y2="489.89" stroke="#2a2a2a" stroke-width="0.85" stroke-dasharray="3.5 5.9" fill="none"/>
<line x1="153.5" y1="504.53" x2="870.5" y2="504.53" stroke="#2a2a2a" stroke-width="0.85" stroke-dasharray="3.5 5.9" fill="none"/>
<line x1="153.5" y1="519.17" x2="870.5" y2="519.17" stroke="#2a2a2a" stroke-width="0.85" stroke-dasharray="3.5 5.9" fill="none"/>
<line x1="153.5" y1="533.81" x2="870.5" y2="533.81" stroke="#2a2a2a" stroke-width="0.85" stroke-dasharray="3.5 5.9" fill="none"/>
<line x1="153.5" y1="548.46" x2="870.5" y2="548.46" stroke="#2a2a2a" stroke-width="0.85" stroke-dasharray="3.5 5.9" fill="none"/>
<polyline points="204.6,539.67 255.82,547.87 307.04,561.34 358.26,554.31 409.48,548.46 460.7,534.25 511.92,505.99 563.14,487.84 614.36,476.27 665.58,473.05 716.8,466.31 768.02,473.05 819.24,476.27" fill="none" stroke="#0000ff" stroke-width="1.0"/>
<rect x="153.5" y="460.6" width="717" height="102.5" stroke="#000" stroke-width="1.2" fill="none"/>
<line x1="139.5" y1="460.6" x2="153.5" y2="460.6" stroke="#000" stroke-width="1.0" fill="none"/>
<line x1="870.5" y1="460.6" x2="884.5" y2="460.6" stroke="#000" stroke-width="1.0" fill="none"/>
<line x1="139.5" y1="475.24" x2="153.5" y2="475.24" stroke="#000" stroke-width="1.0" fill="none"/>
<line x1="870.5" y1="475.24" x2="884.5" y2="475.24" stroke="#000" stroke-width="1.0" fill="none"/>
<line x1="139.5" y1="489.89" x2="153.5" y2="489.89" stroke="#000" stroke-width="1.0" fill="none"/>
<line x1="870.5" y1="489.89" x2="884.5" y2="489.89" stroke="#000" stroke-width="1.0" fill="none"/>
<line x1="139.5" y1="504.53" x2="153.5" y2="504.53" stroke="#000" stroke-width="1.0" fill="none"/>
<line x1="870.5" y1="504.53" x2="884.5" y2="504.53" stroke="#000" stroke-width="1.0" fill="none"/>
<line x1="139.5" y1="519.17" x2="153.5" y2="519.17" stroke="#000" stroke-width="1.0" fill="none"/>
<line x1="870.5" y1="519.17" x2="884.5" y2="519.17" stroke="#000" stroke-width="1.0" fill="none"/>
<line x1="139.5" y1="533.81" x2="153.5" y2="533.81" stroke="#000" stroke-width="1.0" fill="none"/>
<line x1="870.5" y1="533.81" x2="884.5" y2="533.81" stroke="#000" stroke-width="1.0" fill="none"/>
<line x1="139.5" y1="548.46" x2="153.5" y2="548.46" stroke="#000" stroke-width="1.0" fill="none"/>
<line x1="870.5" y1="548.46" x2="884.5" y2="548.46" stroke="#000" stroke-width="1.0" fill="none"/>
<line x1="139.5" y1="563.1" x2="153.5" y2="563.1" stroke="#000" stroke-width="1.0" fill="none"/>
<line x1="870.5" y1="563.1" x2="884.5" y2="563.1" stroke="#000" stroke-width="1.0" fill="none"/>
<line x1="146.5" y1="463.53" x2="153.5" y2="463.53" stroke="#000" stroke-width="0.8" fill="none"/>
<line x1="870.5" y1="463.53" x2="877.5" y2="463.53" stroke="#000" stroke-width="0.8" fill="none"/>
<line x1="146.5" y1="466.46" x2="153.5" y2="466.46" stroke="#000" stroke-width="0.8" fill="none"/>
<line x1="870.5" y1="466.46" x2="877.5" y2="466.46" stroke="#000" stroke-width="0.8" fill="none"/>
<line x1="146.5" y1="469.39" x2="153.5" y2="469.39" stroke="#000" stroke-width="0.8" fill="none"/>
<line x1="870.5" y1="469.39" x2="877.5" y2="469.39" stroke="#000" stroke-width="0.8" fill="none"/>
<line x1="146.5" y1="472.31" x2="153.5" y2="472.31" stroke="#000" stroke-width="0.8" fill="none"/>
<line x1="870.5" y1="472.31" x2="877.5" y2="472.31" stroke="#000" stroke-width="0.8" fill="none"/>
<line x1="146.5" y1="478.17" x2="153.5" y2="478.17" stroke="#000" stroke-width="0.8" fill="none"/>
<line x1="870.5" y1="478.17" x2="877.5" y2="478.17" stroke="#000" stroke-width="0.8" fill="none"/>
<line x1="146.5" y1="481.1" x2="153.5" y2="481.1" stroke="#000" stroke-width="0.8" fill="none"/>
<line x1="870.5" y1="481.1" x2="877.5" y2="481.1" stroke="#000" stroke-width="0.8" fill="none"/>
<line x1="146.5" y1="484.03" x2="153.5" y2="484.03" stroke="#000" stroke-width="0.8" fill="none"/>
<line x1="870.5" y1="484.03" x2="877.5" y2="484.03" stroke="#000" stroke-width="0.8" fill="none"/>
<line x1="146.5" y1="486.96" x2="153.5" y2="486.96" stroke="#000" stroke-width="0.8" fill="none"/>
<line x1="870.5" y1="486.96" x2="877.5" y2="486.96" stroke="#000" stroke-width="0.8" fill="none"/>
<line x1="146.5" y1="492.81" x2="153.5" y2="492.81" stroke="#000" stroke-width="0.8" fill="none"/>
<line x1="870.5" y1="492.81" x2="877.5" y2="492.81" stroke="#000" stroke-width="0.8" fill="none"/>
<line x1="146.5" y1="495.74" x2="153.5" y2="495.74" stroke="#000" stroke-width="0.8" fill="none"/>
<line x1="870.5" y1="495.74" x2="877.5" y2="495.74" stroke="#000" stroke-width="0.8" fill="none"/>
<line x1="146.5" y1="498.67" x2="153.5" y2="498.67" stroke="#000" stroke-width="0.8" fill="none"/>
<line x1="870.5" y1="498.67" x2="877.5" y2="498.67" stroke="#000" stroke-width="0.8" fill="none"/>
<line x1="146.5" y1="501.6" x2="153.5" y2="501.6" stroke="#000" stroke-width="0.8" fill="none"/>
<line x1="870.5" y1="501.6" x2="877.5" y2="501.6" stroke="#000" stroke-width="0.8" fill="none"/>
<line x1="146.5" y1="507.46" x2="153.5" y2="507.46" stroke="#000" stroke-width="0.8" fill="none"/>
<line x1="870.5" y1="507.46" x2="877.5" y2="507.46" stroke="#000" stroke-width="0.8" fill="none"/>
<line x1="146.5" y1="510.39" x2="153.5" y2="510.39" stroke="#000" stroke-width="0.8" fill="none"/>
<line x1="870.5" y1="510.39" x2="877.5" y2="510.39" stroke="#000" stroke-width="0.8" fill="none"/>
<line x1="146.5" y1="513.31" x2="153.5" y2="513.31" stroke="#000" stroke-width="0.8" fill="none"/>
<line x1="870.5" y1="513.31" x2="877.5" y2="513.31" stroke="#000" stroke-width="0.8" fill="none"/>
<line x1="146.5" y1="516.24" x2="153.5" y2="516.24" stroke="#000" stroke-width="0.8" fill="none"/>
<line x1="870.5" y1="516.24" x2="877.5" y2="516.24" stroke="#000" stroke-width="0.8" fill="none"/>
<line x1="146.5" y1="522.1" x2="153.5" y2="522.1" stroke="#000" stroke-width="0.8" fill="none"/>
<line x1="870.5" y1="522.1" x2="877.5" y2="522.1" stroke="#000" stroke-width="0.8" fill="none"/>
<line x1="146.5" y1="525.03" x2="153.5" y2="525.03" stroke="#000" stroke-width="0.8" fill="none"/>
<line x1="870.5" y1="525.03" x2="877.5" y2="525.03" stroke="#000" stroke-width="0.8" fill="none"/>
<line x1="146.5" y1="527.96" x2="153.5" y2="527.96" stroke="#000" stroke-width="0.8" fill="none"/>
<line x1="870.5" y1="527.96" x2="877.5" y2="527.96" stroke="#000" stroke-width="0.8" fill="none"/>
<line x1="146.5" y1="530.89" x2="153.5" y2="530.89" stroke="#000" stroke-width="0.8" fill="none"/>
<line x1="870.5" y1="530.89" x2="877.5" y2="530.89" stroke="#000" stroke-width="0.8" fill="none"/>
<line x1="146.5" y1="536.74" x2="153.5" y2="536.74" stroke="#000" stroke-width="0.8" fill="none"/>
<line x1="870.5" y1="536.74" x2="877.5" y2="536.74" stroke="#000" stroke-width="0.8" fill="none"/>
<line x1="146.5" y1="539.67" x2="153.5" y2="539.67" stroke="#000" stroke-width="0.8" fill="none"/>
<line x1="870.5" y1="539.67" x2="877.5" y2="539.67" stroke="#000" stroke-width="0.8" fill="none"/>
<line x1="146.5" y1="542.6" x2="153.5" y2="542.6" stroke="#000" stroke-width="0.8" fill="none"/>
<line x1="870.5" y1="542.6" x2="877.5" y2="542.6" stroke="#000" stroke-width="0.8" fill="none"/>
<line x1="146.5" y1="545.53" x2="153.5" y2="545.53" stroke="#000" stroke-width="0.8" fill="none"/>
<line x1="870.5" y1="545.53" x2="877.5" y2="545.53" stroke="#000" stroke-width="0.8" fill="none"/>
<line x1="146.5" y1="551.39" x2="153.5" y2="551.39" stroke="#000" stroke-width="0.8" fill="none"/>
<line x1="870.5" y1="551.39" x2="877.5" y2="551.39" stroke="#000" stroke-width="0.8" fill="none"/>
<line x1="146.5" y1="554.31" x2="153.5" y2="554.31" stroke="#000" stroke-width="0.8" fill="none"/>
<line x1="870.5" y1="554.31" x2="877.5" y2="554.31" stroke="#000" stroke-width="0.8" fill="none"/>
<line x1="146.5" y1="557.24" x2="153.5" y2="557.24" stroke="#000" stroke-width="0.8" fill="none"/>
<line x1="870.5" y1="557.24" x2="877.5" y2="557.24" stroke="#000" stroke-width="0.8" fill="none"/>
<line x1="146.5" y1="560.17" x2="153.5" y2="560.17" stroke="#000" stroke-width="0.8" fill="none"/>
<line x1="870.5" y1="560.17" x2="877.5" y2="560.17" stroke="#000" stroke-width="0.8" fill="none"/>
<line x1="204.6" y1="563.1" x2="204.6" y2="577.1" stroke="#000" stroke-width="1.0" fill="none"/>
<line x1="255.82" y1="563.1" x2="255.82" y2="577.1" stroke="#000" stroke-width="1.0" fill="none"/>
<line x1="307.04" y1="563.1" x2="307.04" y2="577.1" stroke="#000" stroke-width="1.0" fill="none"/>
<line x1="358.26" y1="563.1" x2="358.26" y2="577.1" stroke="#000" stroke-width="1.0" fill="none"/>
<line x1="409.48" y1="563.1" x2="409.48" y2="577.1" stroke="#000" stroke-width="1.0" fill="none"/>
<line x1="460.7" y1="563.1" x2="460.7" y2="577.1" stroke="#000" stroke-width="1.0" fill="none"/>
<line x1="511.92" y1="563.1" x2="511.92" y2="577.1" stroke="#000" stroke-width="1.0" fill="none"/>
<line x1="563.14" y1="563.1" x2="563.14" y2="577.1" stroke="#000" stroke-width="1.0" fill="none"/>
<line x1="614.36" y1="563.1" x2="614.36" y2="577.1" stroke="#000" stroke-width="1.0" fill="none"/>
<line x1="665.58" y1="563.1" x2="665.58" y2="577.1" stroke="#000" stroke-width="1.0" fill="none"/>
<line x1="716.8" y1="563.1" x2="716.8" y2="577.1" stroke="#000" stroke-width="1.0" fill="none"/>
<line x1="768.02" y1="563.1" x2="768.02" y2="577.1" stroke="#000" stroke-width="1.0" fill="none"/>
<line x1="819.24" y1="563.1" x2="819.24" y2="577.1" stroke="#000" stroke-width="1.0" fill="none"/>
<g font-family='"Liberation Sans", sans-serif' fill="#000">
<text x="134" y="463.6" font-size="8.8" text-anchor="end">1020.0</text>
<text x="134" y="478.24" font-size="8.8" text-anchor="end">1019.0</text>
<text x="134" y="492.89" font-size="8.8" text-anchor="end">1018.0</text>
<text x="134" y="507.53" font-size="8.8" text-anchor="end">1017.0</text>
<text x="134" y="522.17" font-size="8.8" text-anchor="end">1016.0</text>
<text x="134" y="536.81" font-size="8.8" text-anchor="end">1015.0</text>
<text x="134" y="551.46" font-size="8.8" text-anchor="end">1014.0</text>
<text x="134" y="566.1" font-size="8.8" text-anchor="end">1013.0</text>
<text x="0" y="0" transform="translate(223.6,580.1) rotate(-45)" font-size="13" text-anchor="end">21_12</text>
<text x="0" y="0" transform="translate(274.82,580.1) rotate(-45)" font-size="13" text-anchor="end">21_15</text>
<text x="0" y="0" transform="translate(326.04,580.1) rotate(-45)" font-size="13" text-anchor="end">21_18</text>
<text x="0" y="0" transform="translate(377.26,580.1) rotate(-45)" font-size="13" text-anchor="end">21_21</text>
<text x="0" y="0" transform="translate(428.48,580.1) rotate(-45)" font-size="13" text-anchor="end">22_00</text>
<text x="0" y="0" transform="translate(479.7,580.1) rotate(-45)" font-size="13" text-anchor="end">22_03</text>
<text x="0" y="0" transform="translate(530.92,580.1) rotate(-45)" font-size="13" text-anchor="end">22_06</text>
<text x="0" y="0" transform="translate(582.14,580.1) rotate(-45)" font-size="13" text-anchor="end">22_09</text>
<text x="0" y="0" transform="translate(633.36,580.1) rotate(-45)" font-size="13" text-anchor="end">22_12</text>
<text x="0" y="0" transform="translate(684.58,580.1) rotate(-45)" font-size="13" text-anchor="end">22_15</text>
<text x="0" y="0" transform="translate(735.8,580.1) rotate(-45)" font-size="13" text-anchor="end">22_18</text>
<text x="0" y="0" transform="translate(787.02,580.1) rotate(-45)" font-size="13" text-anchor="end">22_21</text>
<text x="0" y="0" transform="translate(838.24,580.1) rotate(-45)" font-size="13" text-anchor="end">23_00</text>
<text x="0" y="0" transform="translate(91.5,511.8) rotate(-90)" font-size="25.5" text-anchor="middle" textLength="63" lengthAdjust="spacingAndGlyphs">PMSL</text>
</g>
<line x1="204.6" y1="614.4" x2="204.6" y2="716.6" stroke="#2a2a2a" stroke-width="0.85" stroke-dasharray="3.5 5.9" stroke-dashoffset="5.2" fill="none"/>
<line x1="255.82" y1="614.4" x2="255.82" y2="716.6" stroke="#2a2a2a" stroke-width="0.85" stroke-dasharray="3.5 5.9" stroke-dashoffset="5.2" fill="none"/>
<line x1="307.04" y1="614.4" x2="307.04" y2="716.6" stroke="#2a2a2a" stroke-width="0.85" stroke-dasharray="3.5 5.9" stroke-dashoffset="5.2" fill="none"/>
<line x1="358.26" y1="614.4" x2="358.26" y2="716.6" stroke="#2a2a2a" stroke-width="0.85" stroke-dasharray="3.5 5.9" stroke-dashoffset="5.2" fill="none"/>
<line x1="409.48" y1="614.4" x2="409.48" y2="716.6" stroke="#2a2a2a" stroke-width="0.85" stroke-dasharray="3.5 5.9" stroke-dashoffset="5.2" fill="none"/>
<line x1="460.7" y1="614.4" x2="460.7" y2="716.6" stroke="#2a2a2a" stroke-width="0.85" stroke-dasharray="3.5 5.9" stroke-dashoffset="5.2" fill="none"/>
<line x1="511.92" y1="614.4" x2="511.92" y2="716.6" stroke="#2a2a2a" stroke-width="0.85" stroke-dasharray="3.5 5.9" stroke-dashoffset="5.2" fill="none"/>
<line x1="563.14" y1="614.4" x2="563.14" y2="716.6" stroke="#2a2a2a" stroke-width="0.85" stroke-dasharray="3.5 5.9" stroke-dashoffset="5.2" fill="none"/>
<line x1="614.36" y1="614.4" x2="614.36" y2="716.6" stroke="#2a2a2a" stroke-width="0.85" stroke-dasharray="3.5 5.9" stroke-dashoffset="5.2" fill="none"/>
<line x1="665.58" y1="614.4" x2="665.58" y2="716.6" stroke="#2a2a2a" stroke-width="0.85" stroke-dasharray="3.5 5.9" stroke-dashoffset="5.2" fill="none"/>
<line x1="716.8" y1="614.4" x2="716.8" y2="716.6" stroke="#2a2a2a" stroke-width="0.85" stroke-dasharray="3.5 5.9" stroke-dashoffset="5.2" fill="none"/>
<line x1="768.02" y1="614.4" x2="768.02" y2="716.6" stroke="#2a2a2a" stroke-width="0.85" stroke-dasharray="3.5 5.9" stroke-dashoffset="5.2" fill="none"/>
<line x1="819.24" y1="614.4" x2="819.24" y2="716.6" stroke="#2a2a2a" stroke-width="0.85" stroke-dasharray="3.5 5.9" stroke-dashoffset="5.2" fill="none"/>
<line x1="153.5" y1="634.84" x2="870.5" y2="634.84" stroke="#2a2a2a" stroke-width="0.85" stroke-dasharray="3.5 5.9" fill="none"/>
<line x1="153.5" y1="655.28" x2="870.5" y2="655.28" stroke="#2a2a2a" stroke-width="0.85" stroke-dasharray="3.5 5.9" fill="none"/>
<line x1="153.5" y1="675.72" x2="870.5" y2="675.72" stroke="#2a2a2a" stroke-width="0.85" stroke-dasharray="3.5 5.9" fill="none"/>
<line x1="153.5" y1="696.16" x2="870.5" y2="696.16" stroke="#2a2a2a" stroke-width="0.85" stroke-dasharray="3.5 5.9" fill="none"/>
<polyline points="204.6,633.61 255.82,682.67 307.04,695.04 358.26,690.74 409.48,701.47 460.7,685.33 511.92,639.23 563.14,622.98 614.36,631.26 665.58,678.48 716.8,692.99 768.02,696.88 819.24,694.93" fill="none" stroke="#ff0000" stroke-width="1.0"/>
<rect x="153.5" y="614.4" width="717" height="102.2" stroke="#000" stroke-width="1.2" fill="none"/>
<line x1="139.5" y1="614.4" x2="153.5" y2="614.4" stroke="#000" stroke-width="1.0" fill="none"/>
<line x1="870.5" y1="614.4" x2="884.5" y2="614.4" stroke="#000" stroke-width="1.0" fill="none"/>
<line x1="139.5" y1="634.84" x2="153.5" y2="634.84" stroke="#000" stroke-width="1.0" fill="none"/>
<line x1="870.5" y1="634.84" x2="884.5" y2="634.84" stroke="#000" stroke-width="1.0" fill="none"/>
<line x1="139.5" y1="655.28" x2="153.5" y2="655.28" stroke="#000" stroke-width="1.0" fill="none"/>
<line x1="870.5" y1="655.28" x2="884.5" y2="655.28" stroke="#000" stroke-width="1.0" fill="none"/>
<line x1="139.5" y1="675.72" x2="153.5" y2="675.72" stroke="#000" stroke-width="1.0" fill="none"/>
<line x1="870.5" y1="675.72" x2="884.5" y2="675.72" stroke="#000" stroke-width="1.0" fill="none"/>
<line x1="139.5" y1="696.16" x2="153.5" y2="696.16" stroke="#000" stroke-width="1.0" fill="none"/>
<line x1="870.5" y1="696.16" x2="884.5" y2="696.16" stroke="#000" stroke-width="1.0" fill="none"/>
<line x1="139.5" y1="716.6" x2="153.5" y2="716.6" stroke="#000" stroke-width="1.0" fill="none"/>
<line x1="870.5" y1="716.6" x2="884.5" y2="716.6" stroke="#000" stroke-width="1.0" fill="none"/>
<line x1="146.5" y1="619.51" x2="153.5" y2="619.51" stroke="#000" stroke-width="0.8" fill="none"/>
<line x1="870.5" y1="619.51" x2="877.5" y2="619.51" stroke="#000" stroke-width="0.8" fill="none"/>
<line x1="146.5" y1="624.62" x2="153.5" y2="624.62" stroke="#000" stroke-width="0.8" fill="none"/>
<line x1="870.5" y1="624.62" x2="877.5" y2="624.62" stroke="#000" stroke-width="0.8" fill="none"/>
<line x1="146.5" y1="629.73" x2="153.5" y2="629.73" stroke="#000" stroke-width="0.8" fill="none"/>
<line x1="870.5" y1="629.73" x2="877.5" y2="629.73" stroke="#000" stroke-width="0.8" fill="none"/>
<line x1="146.5" y1="639.95" x2="153.5" y2="639.95" stroke="#000" stroke-width="0.8" fill="none"/>
<line x1="870.5" y1="639.95" x2="877.5" y2="639.95" stroke="#000" stroke-width="0.8" fill="none"/>
<line x1="146.5" y1="645.06" x2="153.5" y2="645.06" stroke="#000" stroke-width="0.8" fill="none"/>
<line x1="870.5" y1="645.06" x2="877.5" y2="645.06" stroke="#000" stroke-width="0.8" fill="none"/>
<line x1="146.5" y1="650.17" x2="153.5" y2="650.17" stroke="#000" stroke-width="0.8" fill="none"/>
<line x1="870.5" y1="650.17" x2="877.5" y2="650.17" stroke="#000" stroke-width="0.8" fill="none"/>
<line x1="146.5" y1="660.39" x2="153.5" y2="660.39" stroke="#000" stroke-width="0.8" fill="none"/>
<line x1="870.5" y1="660.39" x2="877.5" y2="660.39" stroke="#000" stroke-width="0.8" fill="none"/>
<line x1="146.5" y1="665.5" x2="153.5" y2="665.5" stroke="#000" stroke-width="0.8" fill="none"/>
<line x1="870.5" y1="665.5" x2="877.5" y2="665.5" stroke="#000" stroke-width="0.8" fill="none"/>
<line x1="146.5" y1="670.61" x2="153.5" y2="670.61" stroke="#000" stroke-width="0.8" fill="none"/>
<line x1="870.5" y1="670.61" x2="877.5" y2="670.61" stroke="#000" stroke-width="0.8" fill="none"/>
<line x1="146.5" y1="680.83" x2="153.5" y2="680.83" stroke="#000" stroke-width="0.8" fill="none"/>
<line x1="870.5" y1="680.83" x2="877.5" y2="680.83" stroke="#000" stroke-width="0.8" fill="none"/>
<line x1="146.5" y1="685.94" x2="153.5" y2="685.94" stroke="#000" stroke-width="0.8" fill="none"/>
<line x1="870.5" y1="685.94" x2="877.5" y2="685.94" stroke="#000" stroke-width="0.8" fill="none"/>
<line x1="146.5" y1="691.05" x2="153.5" y2="691.05" stroke="#000" stroke-width="0.8" fill="none"/>
<line x1="870.5" y1="691.05" x2="877.5" y2="691.05" stroke="#000" stroke-width="0.8" fill="none"/>
<line x1="146.5" y1="701.27" x2="153.5" y2="701.27" stroke="#000" stroke-width="0.8" fill="none"/>
<line x1="870.5" y1="701.27" x2="877.5" y2="701.27" stroke="#000" stroke-width="0.8" fill="none"/>
<line x1="146.5" y1="706.38" x2="153.5" y2="706.38" stroke="#000" stroke-width="0.8" fill="none"/>
<line x1="870.5" y1="706.38" x2="877.5" y2="706.38" stroke="#000" stroke-width="0.8" fill="none"/>
<line x1="146.5" y1="711.49" x2="153.5" y2="711.49" stroke="#000" stroke-width="0.8" fill="none"/>
<line x1="870.5" y1="711.49" x2="877.5" y2="711.49" stroke="#000" stroke-width="0.8" fill="none"/>
<line x1="204.6" y1="716.6" x2="204.6" y2="730.6" stroke="#000" stroke-width="1.0" fill="none"/>
<line x1="255.82" y1="716.6" x2="255.82" y2="730.6" stroke="#000" stroke-width="1.0" fill="none"/>
<line x1="307.04" y1="716.6" x2="307.04" y2="730.6" stroke="#000" stroke-width="1.0" fill="none"/>
<line x1="358.26" y1="716.6" x2="358.26" y2="730.6" stroke="#000" stroke-width="1.0" fill="none"/>
<line x1="409.48" y1="716.6" x2="409.48" y2="730.6" stroke="#000" stroke-width="1.0" fill="none"/>
<line x1="460.7" y1="716.6" x2="460.7" y2="730.6" stroke="#000" stroke-width="1.0" fill="none"/>
<line x1="511.92" y1="716.6" x2="511.92" y2="730.6" stroke="#000" stroke-width="1.0" fill="none"/>
<line x1="563.14" y1="716.6" x2="563.14" y2="730.6" stroke="#000" stroke-width="1.0" fill="none"/>
<line x1="614.36" y1="716.6" x2="614.36" y2="730.6" stroke="#000" stroke-width="1.0" fill="none"/>
<line x1="665.58" y1="716.6" x2="665.58" y2="730.6" stroke="#000" stroke-width="1.0" fill="none"/>
<line x1="716.8" y1="716.6" x2="716.8" y2="730.6" stroke="#000" stroke-width="1.0" fill="none"/>
<line x1="768.02" y1="716.6" x2="768.02" y2="730.6" stroke="#000" stroke-width="1.0" fill="none"/>
<line x1="819.24" y1="716.6" x2="819.24" y2="730.6" stroke="#000" stroke-width="1.0" fill="none"/>
<g font-family='"Liberation Sans", sans-serif' fill="#000">
<text x="134" y="617.4" font-size="8.8" text-anchor="end">2.0</text>
<text x="134" y="637.84" font-size="8.8" text-anchor="end">0.0</text>
<text x="134" y="658.28" font-size="8.8" text-anchor="end">-2.0</text>
<text x="134" y="678.72" font-size="8.8" text-anchor="end">-4.0</text>
<text x="134" y="699.16" font-size="8.8" text-anchor="end">-6.0</text>
<text x="134" y="719.6" font-size="8.8" text-anchor="end">-8.0</text>
<text x="0" y="0" transform="translate(223.6,733.6) rotate(-45)" font-size="13" text-anchor="end">21_12</text>
<text x="0" y="0" transform="translate(274.82,733.6) rotate(-45)" font-size="13" text-anchor="end">21_15</text>
<text x="0" y="0" transform="translate(326.04,733.6) rotate(-45)" font-size="13" text-anchor="end">21_18</text>
<text x="0" y="0" transform="translate(377.26,733.6) rotate(-45)" font-size="13" text-anchor="end">21_21</text>
<text x="0" y="0" transform="translate(428.48,733.6) rotate(-45)" font-size="13" text-anchor="end">22_00</text>
<text x="0" y="0" transform="translate(479.7,733.6) rotate(-45)" font-size="13" text-anchor="end">22_03</text>
<text x="0" y="0" transform="translate(530.92,733.6) rotate(-45)" font-size="13" text-anchor="end">22_06</text>
<text x="0" y="0" transform="translate(582.14,733.6) rotate(-45)" font-size="13" text-anchor="end">22_09</text>
<text x="0" y="0" transform="translate(633.36,733.6) rotate(-45)" font-size="13" text-anchor="end">22_12</text>
<text x="0" y="0" transform="translate(684.58,733.6) rotate(-45)" font-size="13" text-anchor="end">22_15</text>
<text x="0" y="0" transform="translate(735.8,733.6) rotate(-45)" font-size="13" text-anchor="end">22_18</text>
<text x="0" y="0" transform="translate(787.02,733.6) rotate(-45)" font-size="13" text-anchor="end">22_21</text>
<text x="0" y="0" transform="translate(838.24,733.6) rotate(-45)" font-size="13" text-anchor="end">23_00</text>
<text x="0" y="0" transform="translate(103,665.2) rotate(-90)" font-size="25.5" text-anchor="middle" textLength="137.5" lengthAdjust="spacingAndGlyphs">TEMP at 2 M</text>
</g>
<rect x="374.24" y="907.83" width="53.8" height="44.37" fill="#00ee00"/>
<rect x="429.62" y="819.1" width="53.8" height="133.1" fill="#00ee00"/>
<rect x="651.16" y="907.83" width="53.8" height="44.37" fill="#00ee00"/>
<rect x="706.55" y="907.83" width="53.8" height="44.37" fill="#00ee00"/>
<rect x="761.94" y="863.47" width="53.8" height="88.73" fill="#00ee00"/>
<rect x="817.32" y="863.47" width="52.98" height="88.73" fill="#00ee00"/>
<line x1="179.6" y1="819.1" x2="179.6" y2="952.2" stroke="#2a2a2a" stroke-width="0.85" stroke-dasharray="3.5 5.9" stroke-dashoffset="5.2" fill="none"/>
<line x1="234.98" y1="819.1" x2="234.98" y2="952.2" stroke="#2a2a2a" stroke-width="0.85" stroke-dasharray="3.5 5.9" stroke-dashoffset="5.2" fill="none"/>
<line x1="290.37" y1="819.1" x2="290.37" y2="952.2" stroke="#2a2a2a" stroke-width="0.85" stroke-dasharray="3.5 5.9" stroke-dashoffset="5.2" fill="none"/>
<line x1="345.75" y1="819.1" x2="345.75" y2="952.2" stroke="#2a2a2a" stroke-width="0.85" stroke-dasharray="3.5 5.9" stroke-dashoffset="5.2" fill="none"/>
<line x1="401.14" y1="819.1" x2="401.14" y2="952.2" stroke="#2a2a2a" stroke-width="0.85" stroke-dasharray="3.5 5.9" stroke-dashoffset="5.2" fill="none"/>
<line x1="456.52" y1="819.1" x2="456.52" y2="952.2" stroke="#2a2a2a" stroke-width="0.85" stroke-dasharray="3.5 5.9" stroke-dashoffset="5.2" fill="none"/>
<line x1="511.91" y1="819.1" x2="511.91" y2="952.2" stroke="#2a2a2a" stroke-width="0.85" stroke-dasharray="3.5 5.9" stroke-dashoffset="5.2" fill="none"/>
<line x1="567.29" y1="819.1" x2="567.29" y2="952.2" stroke="#2a2a2a" stroke-width="0.85" stroke-dasharray="3.5 5.9" stroke-dashoffset="5.2" fill="none"/>
<line x1="622.68" y1="819.1" x2="622.68" y2="952.2" stroke="#2a2a2a" stroke-width="0.85" stroke-dasharray="3.5 5.9" stroke-dashoffset="5.2" fill="none"/>
<line x1="678.06" y1="819.1" x2="678.06" y2="952.2" stroke="#2a2a2a" stroke-width="0.85" stroke-dasharray="3.5 5.9" stroke-dashoffset="5.2" fill="none"/>
<line x1="733.45" y1="819.1" x2="733.45" y2="952.2" stroke="#2a2a2a" stroke-width="0.85" stroke-dasharray="3.5 5.9" stroke-dashoffset="5.2" fill="none"/>
<line x1="788.84" y1="819.1" x2="788.84" y2="952.2" stroke="#2a2a2a" stroke-width="0.85" stroke-dasharray="3.5 5.9" stroke-dashoffset="5.2" fill="none"/>
<line x1="844.22" y1="819.1" x2="844.22" y2="952.2" stroke="#2a2a2a" stroke-width="0.85" stroke-dasharray="3.5 5.9" stroke-dashoffset="5.2" fill="none"/>
<line x1="153.5" y1="841.28" x2="870.3" y2="841.28" stroke="#2a2a2a" stroke-width="0.85" stroke-dasharray="3.5 5.9" fill="none"/>
<line x1="153.5" y1="863.47" x2="870.3" y2="863.47" stroke="#2a2a2a" stroke-width="0.85" stroke-dasharray="3.5 5.9" fill="none"/>
<line x1="153.5" y1="885.65" x2="870.3" y2="885.65" stroke="#2a2a2a" stroke-width="0.85" stroke-dasharray="3.5 5.9" fill="none"/>
<line x1="153.5" y1="907.83" x2="870.3" y2="907.83" stroke="#2a2a2a" stroke-width="0.85" stroke-dasharray="3.5 5.9" fill="none"/>
<line x1="153.5" y1="930.02" x2="870.3" y2="930.02" stroke="#2a2a2a" stroke-width="0.85" stroke-dasharray="3.5 5.9" fill="none"/>
<rect x="153.5" y="819.1" width="716.8" height="133.1" stroke="#000" stroke-width="1.2" fill="none"/>
<line x1="139.5" y1="819.1" x2="153.5" y2="819.1" stroke="#000" stroke-width="1.0" fill="none"/>
<line x1="870.3" y1="819.1" x2="884.3" y2="819.1" stroke="#000" stroke-width="1.0" fill="none"/>
<line x1="139.5" y1="841.28" x2="153.5" y2="841.28" stroke="#000" stroke-width="1.0" fill="none"/>
<line x1="870.3" y1="841.28" x2="884.3" y2="841.28" stroke="#000" stroke-width="1.0" fill="none"/>
<line x1="139.5" y1="863.47" x2="153.5" y2="863.47" stroke="#000" stroke-width="1.0" fill="none"/>
<line x1="870.3" y1="863.47" x2="884.3" y2="863.47" stroke="#000" stroke-width="1.0" fill="none"/>
<line x1="139.5" y1="885.65" x2="153.5" y2="885.65" stroke="#000" stroke-width="1.0" fill="none"/>
<line x1="870.3" y1="885.65" x2="884.3" y2="885.65" stroke="#000" stroke-width="1.0" fill="none"/>
<line x1="139.5" y1="907.83" x2="153.5" y2="907.83" stroke="#000" stroke-width="1.0" fill="none"/>
<line x1="870.3" y1="907.83" x2="884.3" y2="907.83" stroke="#000" stroke-width="1.0" fill="none"/>
<line x1="139.5" y1="930.02" x2="153.5" y2="930.02" stroke="#000" stroke-width="1.0" fill="none"/>
<line x1="870.3" y1="930.02" x2="884.3" y2="930.02" stroke="#000" stroke-width="1.0" fill="none"/>
<line x1="139.5" y1="952.2" x2="153.5" y2="952.2" stroke="#000" stroke-width="1.0" fill="none"/>
<line x1="870.3" y1="952.2" x2="884.3" y2="952.2" stroke="#000" stroke-width="1.0" fill="none"/>
<line x1="146.5" y1="823.54" x2="153.5" y2="823.54" stroke="#000" stroke-width="0.8" fill="none"/>
<line x1="870.3" y1="823.54" x2="877.3" y2="823.54" stroke="#000" stroke-width="0.8" fill="none"/>
<line x1="146.5" y1="827.97" x2="153.5" y2="827.97" stroke="#000" stroke-width="0.8" fill="none"/>
<line x1="870.3" y1="827.97" x2="877.3" y2="827.97" stroke="#000" stroke-width="0.8" fill="none"/>
<line x1="146.5" y1="832.41" x2="153.5" y2="832.41" stroke="#000" stroke-width="0.8" fill="none"/>
<line x1="870.3" y1="832.41" x2="877.3" y2="832.41" stroke="#000" stroke-width="0.8" fill="none"/>
<line x1="146.5" y1="836.85" x2="153.5" y2="836.85" stroke="#000" stroke-width="0.8" fill="none"/>
<line x1="870.3" y1="836.85" x2="877.3" y2="836.85" stroke="#000" stroke-width="0.8" fill="none"/>
<line x1="146.5" y1="845.72" x2="153.5" y2="845.72" stroke="#000" stroke-width="0.8" fill="none"/>
<line x1="870.3" y1="845.72" x2="877.3" y2="845.72" stroke="#000" stroke-width="0.8" fill="none"/>
<line x1="146.5" y1="850.16" x2="153.5" y2="850.16" stroke="#000" stroke-width="0.8" fill="none"/>
<line x1="870.3" y1="850.16" x2="877.3" y2="850.16" stroke="#000" stroke-width="0.8" fill="none"/>
<line x1="146.5" y1="854.59" x2="153.5" y2="854.59" stroke="#000" stroke-width="0.8" fill="none"/>
<line x1="870.3" y1="854.59" x2="877.3" y2="854.59" stroke="#000" stroke-width="0.8" fill="none"/>
<line x1="146.5" y1="859.03" x2="153.5" y2="859.03" stroke="#000" stroke-width="0.8" fill="none"/>
<line x1="870.3" y1="859.03" x2="877.3" y2="859.03" stroke="#000" stroke-width="0.8" fill="none"/>
<line x1="146.5" y1="867.9" x2="153.5" y2="867.9" stroke="#000" stroke-width="0.8" fill="none"/>
<line x1="870.3" y1="867.9" x2="877.3" y2="867.9" stroke="#000" stroke-width="0.8" fill="none"/>
<line x1="146.5" y1="872.34" x2="153.5" y2="872.34" stroke="#000" stroke-width="0.8" fill="none"/>
<line x1="870.3" y1="872.34" x2="877.3" y2="872.34" stroke="#000" stroke-width="0.8" fill="none"/>
<line x1="146.5" y1="876.78" x2="153.5" y2="876.78" stroke="#000" stroke-width="0.8" fill="none"/>
<line x1="870.3" y1="876.78" x2="877.3" y2="876.78" stroke="#000" stroke-width="0.8" fill="none"/>
<line x1="146.5" y1="881.21" x2="153.5" y2="881.21" stroke="#000" stroke-width="0.8" fill="none"/>
<line x1="870.3" y1="881.21" x2="877.3" y2="881.21" stroke="#000" stroke-width="0.8" fill="none"/>
<line x1="146.5" y1="890.09" x2="153.5" y2="890.09" stroke="#000" stroke-width="0.8" fill="none"/>
<line x1="870.3" y1="890.09" x2="877.3" y2="890.09" stroke="#000" stroke-width="0.8" fill="none"/>
<line x1="146.5" y1="894.52" x2="153.5" y2="894.52" stroke="#000" stroke-width="0.8" fill="none"/>
<line x1="870.3" y1="894.52" x2="877.3" y2="894.52" stroke="#000" stroke-width="0.8" fill="none"/>
<line x1="146.5" y1="898.96" x2="153.5" y2="898.96" stroke="#000" stroke-width="0.8" fill="none"/>
<line x1="870.3" y1="898.96" x2="877.3" y2="898.96" stroke="#000" stroke-width="0.8" fill="none"/>
<line x1="146.5" y1="903.4" x2="153.5" y2="903.4" stroke="#000" stroke-width="0.8" fill="none"/>
<line x1="870.3" y1="903.4" x2="877.3" y2="903.4" stroke="#000" stroke-width="0.8" fill="none"/>
<line x1="146.5" y1="912.27" x2="153.5" y2="912.27" stroke="#000" stroke-width="0.8" fill="none"/>
<line x1="870.3" y1="912.27" x2="877.3" y2="912.27" stroke="#000" stroke-width="0.8" fill="none"/>
<line x1="146.5" y1="916.71" x2="153.5" y2="916.71" stroke="#000" stroke-width="0.8" fill="none"/>
<line x1="870.3" y1="916.71" x2="877.3" y2="916.71" stroke="#000" stroke-width="0.8" fill="none"/>
<line x1="146.5" y1="921.14" x2="153.5" y2="921.14" stroke="#000" stroke-width="0.8" fill="none"/>
<line x1="870.3" y1="921.14" x2="877.3" y2="921.14" stroke="#000" stroke-width="0.8" fill="none"/>
<line x1="146.5" y1="925.58" x2="153.5" y2="925.58" stroke="#000" stroke-width="0.8" fill="none"/>
<line x1="870.3" y1="925.58" x2="877.3" y2="925.58" stroke="#000" stroke-width="0.8" fill="none"/>
<line x1="146.5" y1="934.45" x2="153.5" y2="934.45" stroke="#000" stroke-width="0.8" fill="none"/>
<line x1="870.3" y1="934.45" x2="877.3" y2="934.45" stroke="#000" stroke-width="0.8" fill="none"/>
<line x1="146.5" y1="938.89" x2="153.5" y2="938.89" stroke="#000" stroke-width="0.8" fill="none"/>
<line x1="870.3" y1="938.89" x2="877.3" y2="938.89" stroke="#000" stroke-width="0.8" fill="none"/>
<line x1="146.5" y1="943.33" x2="153.5" y2="943.33" stroke="#000" stroke-width="0.8" fill="none"/>
<line x1="870.3" y1="943.33" x2="877.3" y2="943.33" stroke="#000" stroke-width="0.8" fill="none"/>
<line x1="146.5" y1="947.76" x2="153.5" y2="947.76" stroke="#000" stroke-width="0.8" fill="none"/>
<line x1="870.3" y1="947.76" x2="877.3" y2="947.76" stroke="#000" stroke-width="0.8" fill="none"/>
<line x1="179.6" y1="952.2" x2="179.6" y2="966.2" stroke="#000" stroke-width="1.0" fill="none"/>
<line x1="234.98" y1="952.2" x2="234.98" y2="966.2" stroke="#000" stroke-width="1.0" fill="none"/>
<line x1="290.37" y1="952.2" x2="290.37" y2="966.2" stroke="#000" stroke-width="1.0" fill="none"/>
<line x1="345.75" y1="952.2" x2="345.75" y2="966.2" stroke="#000" stroke-width="1.0" fill="none"/>
<line x1="401.14" y1="952.2" x2="401.14" y2="966.2" stroke="#000" stroke-width="1.0" fill="none"/>
<line x1="456.52" y1="952.2" x2="456.52" y2="966.2" stroke="#000" stroke-width="1.0" fill="none"/>
<line x1="511.91" y1="952.2" x2="511.91" y2="966.2" stroke="#000" stroke-width="1.0" fill="none"/>
<line x1="567.29" y1="952.2" x2="567.29" y2="966.2" stroke="#000" stroke-width="1.0" fill="none"/>
<line x1="622.68" y1="952.2" x2="622.68" y2="966.2" stroke="#000" stroke-width="1.0" fill="none"/>
<line x1="678.06" y1="952.2" x2="678.06" y2="966.2" stroke="#000" stroke-width="1.0" fill="none"/>
<line x1="733.45" y1="952.2" x2="733.45" y2="966.2" stroke="#000" stroke-width="1.0" fill="none"/>
<line x1="788.84" y1="952.2" x2="788.84" y2="966.2" stroke="#000" stroke-width="1.0" fill="none"/>
<line x1="844.22" y1="952.2" x2="844.22" y2="966.2" stroke="#000" stroke-width="1.0" fill="none"/>
<g font-family='"Liberation Sans", sans-serif' fill="#000">
<text x="134" y="822.1" font-size="8.8" text-anchor="end">0.030</text>
<text x="134" y="844.28" font-size="8.8" text-anchor="end">0.025</text>
<text x="134" y="866.47" font-size="8.8" text-anchor="end">0.020</text>
<text x="134" y="888.65" font-size="8.8" text-anchor="end">0.015</text>
<text x="134" y="910.83" font-size="8.8" text-anchor="end">0.010</text>
<text x="134" y="933.02" font-size="8.8" text-anchor="end">0.005</text>
<text x="134" y="955.2" font-size="8.8" text-anchor="end">0.000</text>
<text x="0" y="0" transform="translate(198.6,969.2) rotate(-45)" font-size="13" text-anchor="end">21_12</text>
<text x="0" y="0" transform="translate(253.98,969.2) rotate(-45)" font-size="13" text-anchor="end">21_15</text>
<text x="0" y="0" transform="translate(309.37,969.2) rotate(-45)" font-size="13" text-anchor="end">21_18</text>
<text x="0" y="0" transform="translate(364.75,969.2) rotate(-45)" font-size="13" text-anchor="end">21_21</text>
<text x="0" y="0" transform="translate(420.14,969.2) rotate(-45)" font-size="13" text-anchor="end">22_00</text>
<text x="0" y="0" transform="translate(475.52,969.2) rotate(-45)" font-size="13" text-anchor="end">22_03</text>
<text x="0" y="0" transform="translate(530.91,969.2) rotate(-45)" font-size="13" text-anchor="end">22_06</text>
<text x="0" y="0" transform="translate(586.29,969.2) rotate(-45)" font-size="13" text-anchor="end">22_09</text>
<text x="0" y="0" transform="translate(641.68,969.2) rotate(-45)" font-size="13" text-anchor="end">22_12</text>
<text x="0" y="0" transform="translate(697.06,969.2) rotate(-45)" font-size="13" text-anchor="end">22_15</text>
<text x="0" y="0" transform="translate(752.45,969.2) rotate(-45)" font-size="13" text-anchor="end">22_18</text>
<text x="0" y="0" transform="translate(807.84,969.2) rotate(-45)" font-size="13" text-anchor="end">22_21</text>
<text x="0" y="0" transform="translate(863.22,969.2) rotate(-45)" font-size="13" text-anchor="end">23_00</text>
<text x="0" y="0" transform="translate(90.8,885.6) rotate(-90)" font-size="25.5" text-anchor="middle" textLength="145" lengthAdjust="spacingAndGlyphs">PRECIP, mm</text>
</g>
</svg>
</body></html>
